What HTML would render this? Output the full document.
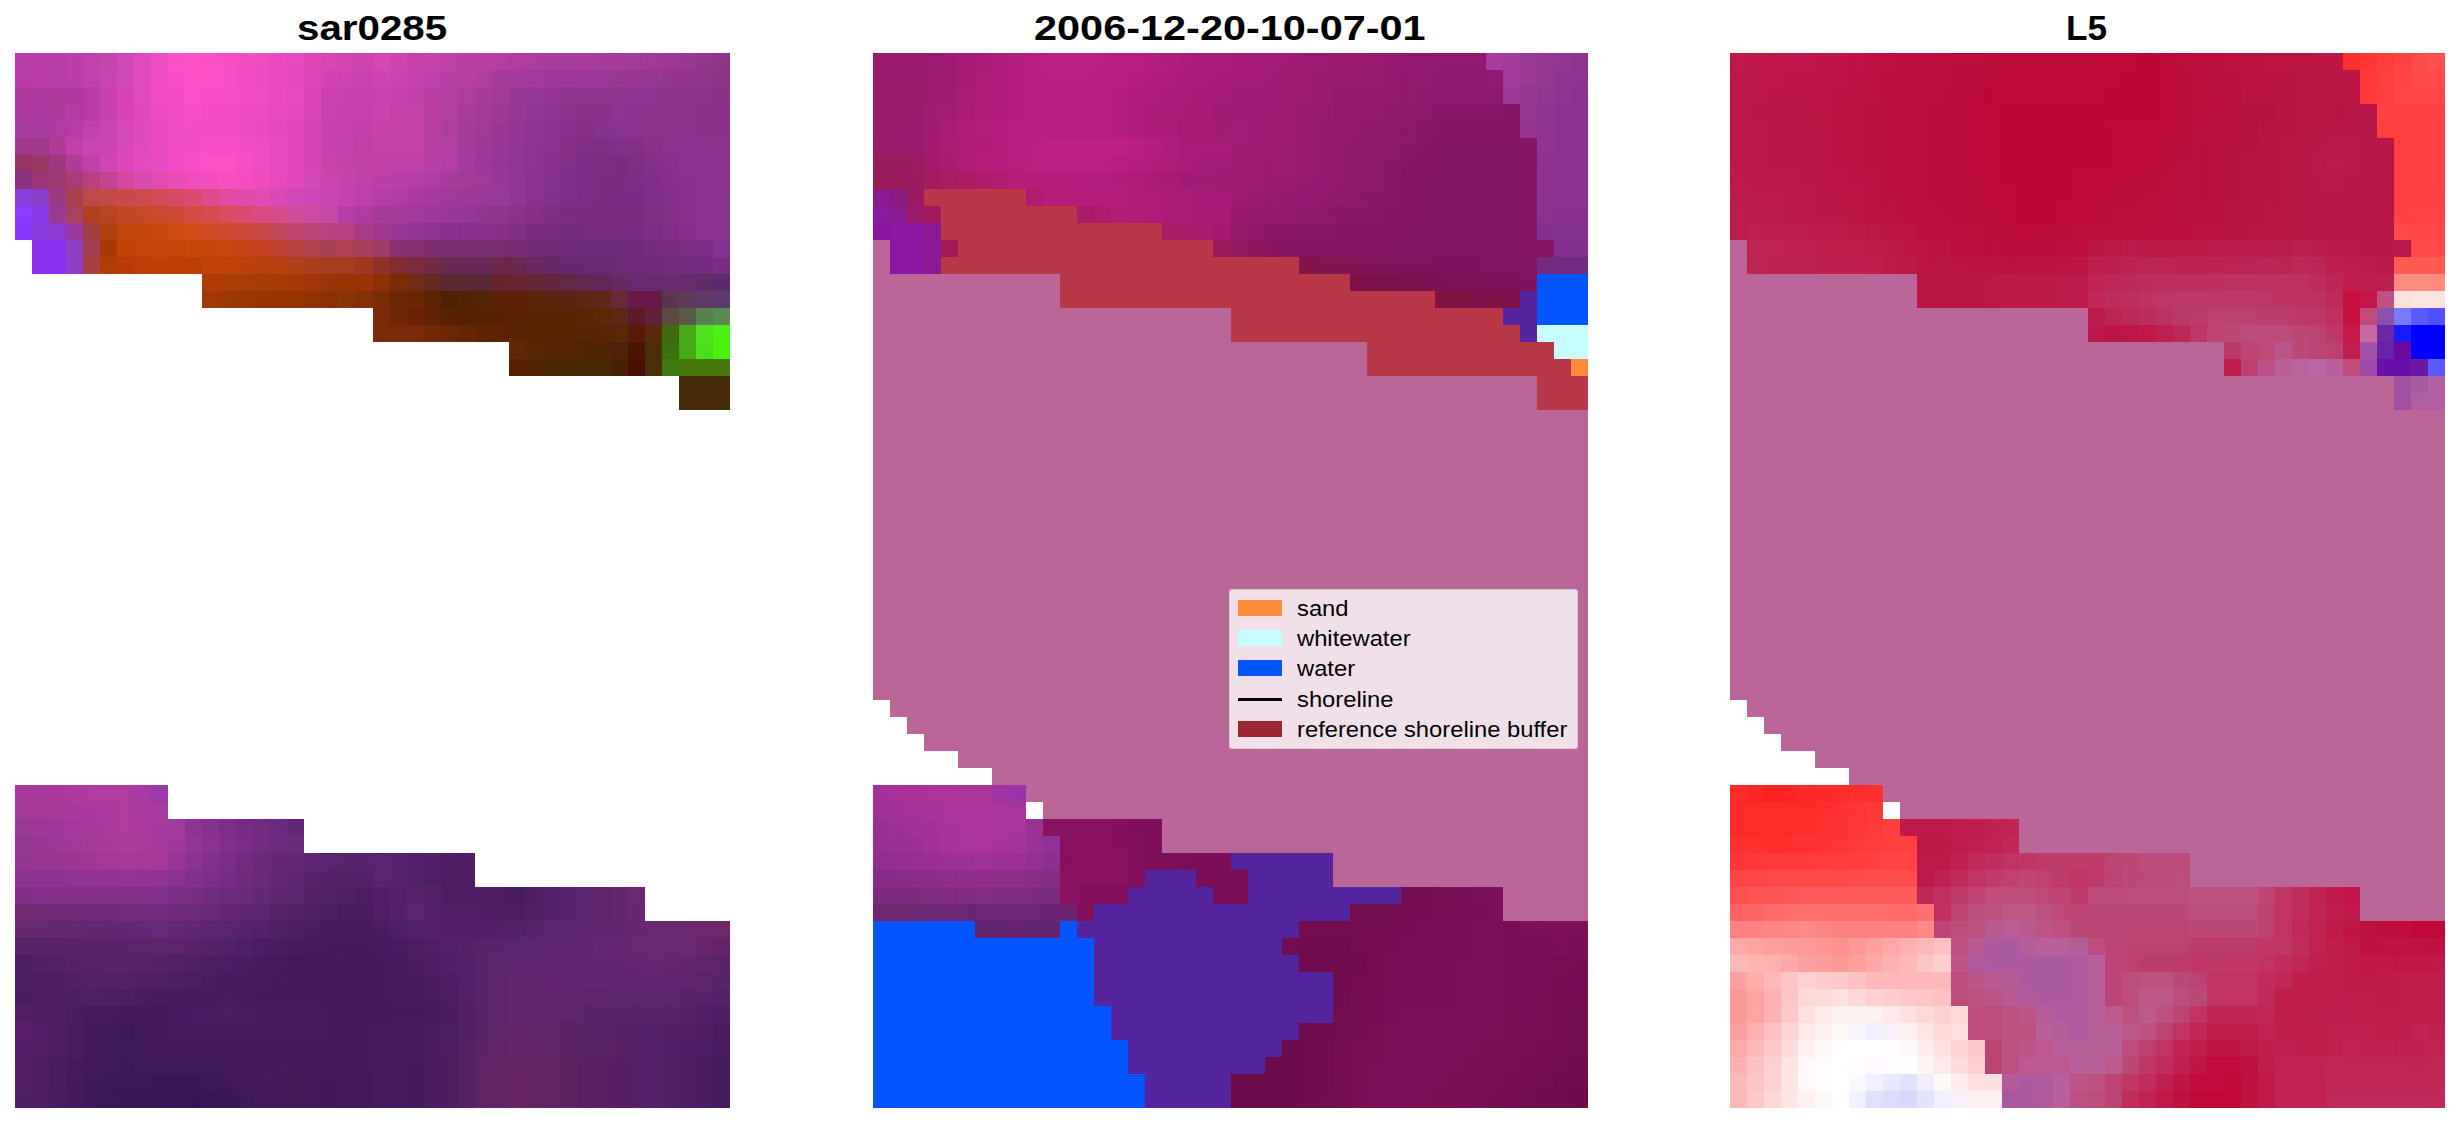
<!DOCTYPE html>
<html><head><meta charset="utf-8">
<style>
html,body{margin:0;padding:0;background:#fff;}
body{width:2460px;height:1123px;position:relative;overflow:hidden;font-family:"Liberation Sans",sans-serif;}
.pn{position:absolute;top:53px;width:715px;height:1055px;display:block;}
.t{position:absolute;font-weight:bold;font-size:35.3px;line-height:35.3px;white-space:nowrap;color:#000;transform-origin:0 0;}
.lg{position:absolute;left:1229px;top:589px;width:347px;height:158px;background:rgba(255,255,255,0.8);border:1px solid rgba(204,204,204,0.8);border-radius:3px;}
.pt{position:absolute;left:1238px;width:44px;height:16px;}
.tx{position:absolute;left:1296.5px;font-size:22px;line-height:22px;white-space:nowrap;color:#000;transform-origin:0 0;transform:scaleX(1.08);}
</style></head><body>
<svg class="pn" style="left:15px" viewBox="0 0 42 62" preserveAspectRatio="none" shape-rendering="crispEdges"><path fill="#b83aa8" d="M0 0h1v1H0zM0 1h1v1H0z"/><path fill="#b83ba8" d="M1 0h1v1H1zM1 1h1v1H1z"/><path fill="#b83ca8" d="M2 0h1v1H2zM2 1h1v1H2zM21 8h1v1H21zM19 9h1v1H19z"/><path fill="#bc3eaa" d="M3 0h1v1H3zM3 1h1v1H3z"/><path fill="#c040ac" d="M4 0h1v1H4zM4 1h1v1H4zM4 4h1v1H4z"/><path fill="#c444b0" d="M5 0h1v1H5z"/><path fill="#d048b8" d="M6 0h1v1H6zM6 1h1v1H6zM16 8h1v1H16z"/><path fill="#e04cc0" d="M7 0h1v1H7z"/><path fill="#f04cc4" d="M8 0h1v1H8zM14 0h1v1H14zM8 1h1v1H8zM8 2h1v1H8zM14 2h1v1H14zM14 5h1v1H14zM14 6h1v1H14z"/><path fill="#fc50c8" d="M9 0h1v1H9zM11 0h1v1H11z"/><path fill="#ff50c8" d="M10 0h1v1H10zM10 1h1v1H10zM12 6h1v1H12z"/><path fill="#f84ec8" d="M12 0h1v1H12zM12 5h1v1H12zM10 6h1v1H10z"/><path fill="#f44dc6" d="M13 0h1v1H13zM13 5h1v1H13z"/><path fill="#ec4ac2" d="M15 0h1v1H15zM15 2h1v1H15z"/><path fill="#e848c0" d="M16 0h1v1H16zM16 2h1v1H16z"/><path fill="#e046ba" d="M17 0h1v1H17z"/><path fill="#d844b4" d="M18 0h1v1H18z"/><path fill="#d443b2" d="M19 0h1v1H19z"/><path fill="#d042b0" d="M20 0h1v1H20z"/><path fill="#d846b4" d="M21 0h1v1H21z"/><path fill="#d043b0" d="M22 0h1v1H22z"/><path fill="#c840ac" d="M23 0h1v1H23zM18 4h1v1H18zM18 5h1v1H18z"/><path fill="#c440aa" d="M24 0h1v1H24zM23 1h1v1H23z"/><path fill="#c040a8" d="M25 0h1v1H25zM23 2h1v1H23zM3 5h1v1H3zM4 6h1v1H4zM23 6h1v1H23z"/><path fill="#bc3fa6" d="M26 0h1v1H26z"/><path fill="#b83ea4" d="M27 0h1v1H27z"/><path fill="#b43ea3" d="M28 0h1v1H28z"/><path fill="#b03ea2" d="M29 0h1v1H29z"/><path fill="#ac3da1" d="M30 0h1v1H30z"/><path fill="#a83ca0" d="M31 0h3v1H31zM0 4h2v1H0zM8 44h1v1H8z"/><path fill="#a63c9e" d="M34 0h1v1H34z"/><path fill="#a43c9c" d="M35 0h1v1H35zM22 9h1v1H22z"/><path fill="#a23b9a" d="M36 0h1v1H36z"/><path fill="#a03a98" d="M37 0h1v1H37zM27 4h1v1H27zM27 7h1v1H27zM25 8h1v1H25z"/><path fill="#9d3995" d="M38 0h1v1H38z"/><path fill="#9a3892" d="M39 0h1v1H39z"/><path fill="#95368d" d="M40 0h1v1H40z"/><path fill="#903488" d="M41 0h1v1H41z"/><path fill="#c844b2" d="M5 1h1v1H5z"/><path fill="#e04bbf" d="M7 1h1v1H7z"/><path fill="#f84ec6" d="M9 1h1v1H9zM12 1h1v1H12zM12 2h1v1H12zM10 3h1v1H10zM13 6h1v1H13z"/><path fill="#fc4fc7" d="M11 1h1v1H11z"/><path fill="#f34dc5" d="M13 1h1v1H13z"/><path fill="#ee4cc4" d="M14 1h1v1H14z"/><path fill="#ea4ac1" d="M15 1h1v1H15z"/><path fill="#e648be" d="M16 1h1v1H16z"/><path fill="#dc45b7" d="M17 1h1v1H17z"/><path fill="#d242b0" d="M18 1h1v1H18z"/><path fill="#cf41ae" d="M19 1h1v1H19z"/><path fill="#cc40ac" d="M20 1h1v1H20z"/><path fill="#d243b1" d="M21 1h1v1H21z"/><path fill="#cc43ae" d="M22 1h1v1H22z"/><path fill="#be3fa7" d="M24 1h1v1H24z"/><path fill="#ba3fa5" d="M25 1h1v1H25zM24 2h1v1H24z"/><path fill="#b63ea3" d="M26 1h1v1H26z"/><path fill="#b03da0" d="M27 1h1v1H27z"/><path fill="#a93b9d" d="M28 1h1v1H28z"/><path fill="#a53b9c" d="M29 1h1v1H29zM24 8h1v1H24z"/><path fill="#a13a9b" d="M30 1h1v1H30z"/><path fill="#9e3999" d="M31 1h2v1H31z"/><path fill="#9c3898" d="M33 1h2v1H33zM27 6h1v1H27z"/><path fill="#9a3896" d="M35 1h1v1H35zM29 2h1v1H29zM28 4h1v1H28z"/><path fill="#983794" d="M36 1h1v1H36z"/><path fill="#973794" d="M37 1h1v1H37zM30 2h1v1H30z"/><path fill="#943691" d="M38 1h1v1H38z"/><path fill="#93358f" d="M39 1h1v1H39z"/><path fill="#92358d" d="M40 1h1v1H40z"/><path fill="#8d3388" d="M41 1h1v1H41z"/><path fill="#b03aa0" d="M0 2h2v1H0z"/><path fill="#b03a9e" d="M2 2h2v1H2zM2 3h1v1H2z"/><path fill="#b83ca4" d="M4 2h1v1H4zM4 3h1v1H4z"/><path fill="#c840b0" d="M5 2h1v1H5zM19 8h1v1H19z"/><path fill="#d444b8" d="M6 2h1v1H6zM6 3h1v1H6z"/><path fill="#e04abe" d="M7 2h1v1H7z"/><path fill="#f44ec6" d="M9 2h1v1H9zM10 4h1v1H10zM10 5h1v1H10z"/><path fill="#f850c8" d="M10 2h1v1H10z"/><path fill="#f84fc7" d="M11 2h1v1H11z"/><path fill="#f44dc5" d="M13 2h1v1H13zM11 4h1v1H11z"/><path fill="#da44b7" d="M17 2h1v1H17z"/><path fill="#cc40ae" d="M18 2h1v1H18zM21 2h1v1H21z"/><path fill="#ca3fac" d="M19 2h1v1H19z"/><path fill="#c83eaa" d="M20 2h1v1H20z"/><path fill="#c640ab" d="M22 2h1v1H22z"/><path fill="#b43ea2" d="M25 2h1v1H25z"/><path fill="#ae3d9f" d="M26 2h1v1H26z"/><path fill="#a83c9c" d="M27 2h1v1H27zM26 4h1v1H26zM25 7h1v1H25zM21 9h1v1H21z"/><path fill="#a13a99" d="M28 2h1v1H28z"/><path fill="#943692" d="M31 2h1v1H31z"/><path fill="#923591" d="M32 2h1v1H32z"/><path fill="#903490" d="M33 2h3v1H33zM8 48h1v1H8z"/><path fill="#8f3490" d="M36 2h1v1H36z"/><path fill="#8e3490" d="M37 2h1v1H37zM30 5h1v1H30z"/><path fill="#8d338e" d="M38 2h1v1H38zM36 3h1v1H36z"/><path fill="#8c328c" d="M39 2h1v1H39z"/><path fill="#8b328a" d="M40 2h1v1H40z"/><path fill="#8a3288" d="M41 2h1v1H41z"/><path fill="#ac3aa0" d="M0 3h1v1H0z"/><path fill="#ac3ba0" d="M1 3h1v1H1z"/><path fill="#b43ba2" d="M3 3h1v1H3z"/><path fill="#c640ae" d="M5 3h1v1H5z"/><path fill="#e048bd" d="M7 3h1v1H7z"/><path fill="#ec4cc2" d="M8 3h1v1H8z"/><path fill="#f24dc4" d="M9 3h1v1H9z"/><path fill="#f64dc5" d="M11 3h1v1H11z"/><path fill="#f44cc4" d="M12 3h1v1H12zM12 4h1v1H12z"/><path fill="#f04cc2" d="M13 3h1v1H13z"/><path fill="#ec4cc0" d="M14 3h1v1H14z"/><path fill="#e84abe" d="M15 3h1v1H15zM15 7h1v1H15z"/><path fill="#e448bc" d="M16 3h1v1H16z"/><path fill="#d744b4" d="M17 3h1v1H17z"/><path fill="#ca40ad" d="M18 3h1v1H18z"/><path fill="#c83fab" d="M19 3h1v1H19z"/><path fill="#c53ea9" d="M20 3h1v1H20z"/><path fill="#ca40ac" d="M21 3h1v1H21z"/><path fill="#c440a9" d="M22 3h1v1H22z"/><path fill="#c240a8" d="M23 3h1v1H23zM23 5h1v1H23z"/><path fill="#bc3fa5" d="M24 3h1v1H24z"/><path fill="#b23ea1" d="M25 3h1v1H25z"/><path fill="#aa3c9d" d="M26 3h1v1H26z"/><path fill="#a43b9a" d="M27 3h1v1H27zM26 7h1v1H26z"/><path fill="#9d3997" d="M28 3h1v1H28z"/><path fill="#973795" d="M29 3h1v1H29zM28 6h1v1H28z"/><path fill="#923593" d="M30 3h1v1H30z"/><path fill="#8f3491" d="M31 3h1v1H31z"/><path fill="#8c328d" d="M32 3h1v1H32zM29 9h1v1H29z"/><path fill="#8a318c" d="M33 3h2v1H33z"/><path fill="#8d3390" d="M35 3h1v1H35z"/><path fill="#8c338e" d="M37 3h1v1H37z"/><path fill="#8b328c" d="M38 3h2v1H38z"/><path fill="#8a328a" d="M40 3h1v1H40zM41 4h1v1H41z"/><path fill="#8a3289" d="M41 3h1v1H41z"/><path fill="#b03ca2" d="M2 4h1v1H2zM20 9h1v1H20z"/><path fill="#b83ca6" d="M3 4h1v1H3z"/><path fill="#c844b0" d="M5 4h1v1H5zM4 5h1v1H4zM18 7h1v1H18zM18 8h1v1H18z"/><path fill="#d448b8" d="M6 4h1v1H6z"/><path fill="#de4abc" d="M7 4h1v1H7z"/><path fill="#e84cc0" d="M8 4h1v1H8zM8 5h1v1H8z"/><path fill="#ee4dc3" d="M9 4h1v1H9zM9 5h1v1H9z"/><path fill="#ee4cc1" d="M13 4h1v1H13z"/><path fill="#e84cbe" d="M14 4h1v1H14z"/><path fill="#e44abc" d="M15 4h1v1H15z"/><path fill="#e048ba" d="M16 4h1v1H16z"/><path fill="#d444b3" d="M17 4h1v1H17z"/><path fill="#c53faa" d="M19 4h1v1H19z"/><path fill="#c23ea8" d="M20 4h1v1H20z"/><path fill="#c840aa" d="M21 4h1v1H21z"/><path fill="#c640a9" d="M22 4h1v1H22z"/><path fill="#c440a8" d="M23 4h1v1H23z"/><path fill="#ba3fa4" d="M24 4h1v1H24z"/><path fill="#b03ea0" d="M25 4h1v1H25z"/><path fill="#943694" d="M29 4h1v1H29z"/><path fill="#8f3492" d="M30 4h1v1H30z"/><path fill="#8a3290" d="M31 4h1v1H31zM35 4h1v1H35zM39 6h1v1H39zM40 7h1v1H40zM30 8h1v1H30zM40 8h2v1H40zM40 9h2v1H40zM40 10h2v1H40z"/><path fill="#87308c" d="M32 4h1v1H32zM34 4h1v1H34zM39 9h1v1H39z"/><path fill="#842e88" d="M33 4h1v1H33zM38 9h1v1H38zM2 49h1v1H2z"/><path fill="#8a328e" d="M36 4h1v1H36zM38 5h2v1H38z"/><path fill="#8a328c" d="M37 4h3v1H37z"/><path fill="#8a328b" d="M40 4h1v1H40z"/><path fill="#a03a8a" d="M0 5h1v1H0z"/><path fill="#a03a8c" d="M1 5h1v1H1z"/><path fill="#b03c96" d="M2 5h1v1H2z"/><path fill="#cc44b2" d="M5 5h1v1H5z"/><path fill="#d848b8" d="M6 5h1v1H6z"/><path fill="#e04abc" d="M7 5h1v1H7z"/><path fill="#f64ec7" d="M11 5h1v1H11z"/><path fill="#e84ac0" d="M15 5h1v1H15zM15 6h1v1H15z"/><path fill="#e048bc" d="M16 5h1v1H16zM16 6h1v1H16zM16 7h1v1H16z"/><path fill="#d444b4" d="M17 5h1v1H17z"/><path fill="#c43fa9" d="M19 5h1v1H19z"/><path fill="#c03ea6" d="M20 5h1v1H20z"/><path fill="#c540a8" d="M21 5h1v1H21z"/><path fill="#c340a7" d="M22 5h1v1H22z"/><path fill="#b83fa4" d="M24 5h1v1H24z"/><path fill="#b23ea2" d="M25 5h1v1H25z"/><path fill="#a63b9c" d="M26 5h1v1H26z"/><path fill="#9e3998" d="M27 5h1v1H27z"/><path fill="#983796" d="M28 5h1v1H28z"/><path fill="#933693" d="M29 5h1v1H29z"/><path fill="#89328e" d="M31 5h1v1H31z"/><path fill="#86308a" d="M32 5h1v1H32zM30 9h1v1H30z"/><path fill="#802d86" d="M33 5h1v1H33z"/><path fill="#7f2d85" d="M34 5h1v1H34zM37 9h1v1H37z"/><path fill="#822f89" d="M35 5h1v1H35z"/><path fill="#822f87" d="M36 5h1v1H36z"/><path fill="#87318b" d="M37 5h1v1H37z"/><path fill="#8b328e" d="M40 5h1v1H40z"/><path fill="#8b328d" d="M41 5h1v1H41z"/><path fill="#9a3268" d="M0 6h1v1H0z"/><path fill="#9a3868" d="M1 6h1v1H1z"/><path fill="#a03a80" d="M2 6h1v1H2z"/><path fill="#b03c98" d="M3 6h1v1H3z"/><path fill="#d044b4" d="M5 6h1v1H5z"/><path fill="#dc48bc" d="M6 6h1v1H6z"/><path fill="#e24ac0" d="M7 6h1v1H7z"/><path fill="#e84cc4" d="M8 6h1v1H8z"/><path fill="#f04dc6" d="M9 6h1v1H9z"/><path fill="#fc4fc8" d="M11 6h1v1H11z"/><path fill="#d445b3" d="M17 6h1v1H17z"/><path fill="#c842aa" d="M18 6h1v1H18z"/><path fill="#c441a8" d="M19 6h1v1H19z"/><path fill="#c040a6" d="M20 6h1v1H20z"/><path fill="#c240a6" d="M21 6h1v1H21z"/><path fill="#c140a7" d="M22 6h1v1H22z"/><path fill="#ba3fa6" d="M24 6h1v1H24z"/><path fill="#b43ea4" d="M25 6h1v1H25z"/><path fill="#a83b9e" d="M26 6h1v1H26z"/><path fill="#923692" d="M29 6h1v1H29zM27 9h1v1H27z"/><path fill="#8d348f" d="M30 6h1v1H30z"/><path fill="#88328c" d="M31 6h1v1H31z"/><path fill="#822f88" d="M32 6h1v1H32z"/><path fill="#7c2c84" d="M33 6h1v1H33zM33 7h1v1H33z"/><path fill="#7b2c83" d="M34 6h1v1H34zM39 11h1v1H39z"/><path fill="#7a2c82" d="M35 6h1v1H35zM34 7h2v1H34zM36 9h1v1H36z"/><path fill="#7f2e86" d="M36 6h1v1H36zM31 9h1v1H31z"/><path fill="#84308a" d="M37 6h1v1H37zM10 48h1v1H10z"/><path fill="#87318d" d="M38 6h1v1H38z"/><path fill="#8b3290" d="M40 6h1v1H40zM41 7h1v1H41z"/><path fill="#8c3290" d="M41 6h1v1H41zM10 47h1v1H10zM0 48h1v1H0z"/><path fill="#8e3080" d="M0 7h1v1H0z"/><path fill="#9a3878" d="M1 7h1v1H1z"/><path fill="#a03a70" d="M2 7h1v1H2z"/><path fill="#a83c78" d="M3 7h1v1H3z"/><path fill="#b84080" d="M4 7h1v1H4zM19 10h1v1H19z"/><path fill="#c04490" d="M5 7h1v1H5z"/><path fill="#d048a0" d="M6 7h1v1H6z"/><path fill="#d84cb0" d="M7 7h1v1H7z"/><path fill="#e04cb0" d="M8 7h1v1H8z"/><path fill="#e84db6" d="M9 7h1v1H9z"/><path fill="#f04ebc" d="M10 7h1v1H10z"/><path fill="#f44fbe" d="M11 7h1v1H11z"/><path fill="#f850c0" d="M12 7h1v1H12z"/><path fill="#f44ec0" d="M13 7h1v1H13z"/><path fill="#f04cc0" d="M14 7h1v1H14z"/><path fill="#d446b6" d="M17 7h1v1H17z"/><path fill="#c442ad" d="M19 7h1v1H19z"/><path fill="#c040aa" d="M20 7h1v1H20z"/><path fill="#bd3ea7" d="M21 7h1v1H21z"/><path fill="#b83ea8" d="M22 7h1v1H22z"/><path fill="#b33da4" d="M23 7h1v1H23z"/><path fill="#ad3da0" d="M24 7h1v1H24z"/><path fill="#993996" d="M28 7h1v1H28z"/><path fill="#923693" d="M29 7h1v1H29z"/><path fill="#8c3390" d="M30 7h1v1H30z"/><path fill="#86318c" d="M31 7h1v1H31z"/><path fill="#802e88" d="M32 7h1v1H32z"/><path fill="#7c2d85" d="M36 7h1v1H36z"/><path fill="#822e88" d="M37 7h1v1H37zM38 10h1v1H38zM0 49h1v1H0z"/><path fill="#86308c" d="M38 7h1v1H38zM39 10h1v1H39z"/><path fill="#88318e" d="M39 7h1v1H39z"/><path fill="#8a40e0" d="M0 8h1v1H0z"/><path fill="#8a40c8" d="M1 8h1v1H1z"/><path fill="#9a3a80" d="M2 8h1v1H2z"/><path fill="#a84050" d="M3 8h1v1H3z"/><path fill="#c04848" d="M4 8h1v1H4z"/><path fill="#c44949" d="M5 8h1v1H5z"/><path fill="#c84a4a" d="M6 8h1v1H6z"/><path fill="#cc4b51" d="M7 8h1v1H7z"/><path fill="#d04c58" d="M8 8h1v1H8z"/><path fill="#d44c64" d="M9 8h1v1H9z"/><path fill="#d84c70" d="M10 8h1v1H10zM13 9h1v1H13z"/><path fill="#dc4c88" d="M11 8h1v1H11z"/><path fill="#e04ca0" d="M12 8h1v1H12z"/><path fill="#e04caa" d="M13 8h1v1H13z"/><path fill="#e04cb4" d="M14 8h1v1H14z"/><path fill="#d84ab6" d="M15 8h1v1H15z"/><path fill="#cc46b4" d="M17 8h1v1H17z"/><path fill="#c03eac" d="M20 8h1v1H20z"/><path fill="#b03ca4" d="M22 8h1v1H22z"/><path fill="#ab3ba0" d="M23 8h1v1H23z"/><path fill="#9d3a98" d="M26 8h1v1H26z"/><path fill="#9a3a98" d="M27 8h2v1H27z"/><path fill="#923694" d="M29 8h1v1H29z"/><path fill="#84308c" d="M31 8h1v1H31z"/><path fill="#7e2e88" d="M32 8h1v1H32zM12 45h1v1H12z"/><path fill="#7b2d85" d="M33 8h1v1H33z"/><path fill="#782c82" d="M34 8h1v1H34zM32 9h1v1H32z"/><path fill="#792c83" d="M35 8h1v1H35z"/><path fill="#7a2c84" d="M36 8h1v1H36zM36 10h1v1H36zM41 12h1v1H41z"/><path fill="#7f2d87" d="M37 8h1v1H37z"/><path fill="#842e8a" d="M38 8h1v1H38z"/><path fill="#87308d" d="M39 8h1v1H39z"/><path fill="#8a3cff" d="M0 9h1v1H0z"/><path fill="#8a3ce8" d="M1 9h1v1H1z"/><path fill="#9a3a90" d="M2 9h1v1H2z"/><path fill="#a84060" d="M3 9h1v1H3z"/><path fill="#b04020" d="M4 9h1v1H4z"/><path fill="#b84424" d="M5 9h1v1H5z"/><path fill="#c04828" d="M6 9h1v1H6z"/><path fill="#c4482c" d="M7 9h1v1H7z"/><path fill="#c84830" d="M8 9h1v1H8z"/><path fill="#cc4a38" d="M9 9h1v1H9z"/><path fill="#d04c40" d="M10 9h1v1H10z"/><path fill="#d44c50" d="M11 9h1v1H11z"/><path fill="#d84c60" d="M12 9h1v1H12z"/><path fill="#d84c80" d="M14 9h1v1H14z"/><path fill="#d44c8c" d="M15 9h1v1H15z"/><path fill="#d04c98" d="M16 9h1v1H16z"/><path fill="#cc4aa0" d="M17 9h1v1H17z"/><path fill="#c848a8" d="M18 9h1v1H18z"/><path fill="#a03b9b" d="M23 9h1v1H23z"/><path fill="#9c3999" d="M24 9h1v1H24z"/><path fill="#983898" d="M25 9h1v1H25z"/><path fill="#953795" d="M26 9h1v1H26z"/><path fill="#923490" d="M28 9h1v1H28z"/><path fill="#782c81" d="M33 9h1v1H33z"/><path fill="#782c80" d="M34 9h1v1H34zM34 10h1v1H34zM38 11h1v1H38z"/><path fill="#792c81" d="M35 9h1v1H35z"/><path fill="#8a38ff" d="M0 10h1v1H0z"/><path fill="#8a3ce0" d="M1 10h1v1H1z"/><path fill="#8a3ad0" d="M2 10h1v1H2z"/><path fill="#9a3aa0" d="M3 10h1v1H3z"/><path fill="#a04040" d="M4 10h1v1H4z"/><path fill="#b04010" d="M5 10h1v1H5z"/><path fill="#c04810" d="M6 10h1v1H6z"/><path fill="#c44810" d="M7 10h1v1H7z"/><path fill="#c84810" d="M8 10h1v1H8zM12 11h1v1H12z"/><path fill="#cc4a14" d="M9 10h1v1H9z"/><path fill="#d04c18" d="M10 10h1v1H10z"/><path fill="#d04c24" d="M11 10h1v1H11z"/><path fill="#d04c30" d="M12 10h1v1H12z"/><path fill="#cc4a3c" d="M13 10h1v1H13z"/><path fill="#c84848" d="M14 10h1v1H14z"/><path fill="#c4485c" d="M15 10h1v1H15z"/><path fill="#c04870" d="M16 10h1v1H16z"/><path fill="#bc4476" d="M17 10h1v1H17z"/><path fill="#b8407c" d="M18 10h1v1H18z"/><path fill="#a83c88" d="M20 10h1v1H20z"/><path fill="#a03890" d="M21 10h1v1H21z"/><path fill="#983894" d="M22 10h1v1H22z"/><path fill="#933593" d="M23 10h1v1H23z"/><path fill="#8f3391" d="M24 10h1v1H24z"/><path fill="#8a3090" d="M25 10h1v1H25z"/><path fill="#89308f" d="M26 10h1v1H26z"/><path fill="#88308e" d="M27 10h1v1H27z"/><path fill="#883088" d="M28 10h1v1H28z"/><path fill="#812e84" d="M29 10h1v1H29z"/><path fill="#7a2c80" d="M30 10h1v1H30z"/><path fill="#772b7e" d="M31 10h1v1H31z"/><path fill="#742a7c" d="M32 10h1v1H32zM38 12h1v1H38z"/><path fill="#762b7e" d="M33 10h1v1H33z"/><path fill="#792c82" d="M35 10h1v1H35z"/><path fill="#7e2d86" d="M37 10h1v1H37z"/><path fill="#8a30f0" d="M1 11h2v1H1zM1 12h2v1H1z"/><path fill="#9040c0" d="M3 11h1v1H3z"/><path fill="#a04050" d="M4 11h1v1H4z"/><path fill="#a83808" d="M5 11h1v1H5zM16 13h1v1H16z"/><path fill="#c04408" d="M6 11h1v1H6zM12 12h1v1H12z"/><path fill="#c2440a" d="M7 11h1v1H7z"/><path fill="#c4440c" d="M8 11h1v1H8z"/><path fill="#c44408" d="M9 11h1v1H9z"/><path fill="#c84808" d="M10 11h1v1H10z"/><path fill="#c8480c" d="M11 11h1v1H11z"/><path fill="#c64418" d="M13 11h1v1H13z"/><path fill="#c44020" d="M14 11h1v1H14z"/><path fill="#be4030" d="M15 11h1v1H15z"/><path fill="#b84040" d="M16 11h1v1H16z"/><path fill="#b0404c" d="M17 11h1v1H17z"/><path fill="#a84058" d="M18 11h1v1H18z"/><path fill="#b04050" d="M19 11h1v1H19z"/><path fill="#a8405c" d="M20 11h1v1H20z"/><path fill="#a03c68" d="M21 11h1v1H21z"/><path fill="#8a3070" d="M22 11h1v1H22z"/><path fill="#852f70" d="M23 11h1v1H23z"/><path fill="#7f2d70" d="M24 11h1v1H24z"/><path fill="#7a2c70" d="M25 11h1v1H25zM28 11h1v1H28z"/><path fill="#782e6f" d="M26 11h1v1H26z"/><path fill="#76306e" d="M27 11h1v1H27z"/><path fill="#762b72" d="M29 11h1v1H29z"/><path fill="#722a74" d="M30 11h1v1H30z"/><path fill="#702a76" d="M31 11h1v1H31z"/><path fill="#6e2a78" d="M32 11h1v1H32zM36 12h1v1H36zM4 50h1v1H4z"/><path fill="#6d2a79" d="M33 11h1v1H33z"/><path fill="#6c2a7a" d="M34 11h1v1H34z"/><path fill="#6e2a7b" d="M35 11h1v1H35z"/><path fill="#702a7c" d="M36 11h1v1H36z"/><path fill="#742b7e" d="M37 11h1v1H37z"/><path fill="#7e2c86" d="M40 11h1v1H40z"/><path fill="#883090" d="M41 11h1v1H41z"/><path fill="#9040c8" d="M3 12h1v1H3z"/><path fill="#a84040" d="M4 12h1v1H4z"/><path fill="#b03c08" d="M5 12h1v1H5z"/><path fill="#b83c08" d="M6 12h1v1H6z"/><path fill="#bc3e08" d="M7 12h1v1H7z"/><path fill="#c04008" d="M8 12h1v1H8z"/><path fill="#bd4007" d="M9 12h1v1H9z"/><path fill="#ba4006" d="M10 12h1v1H10z"/><path fill="#bd4307" d="M11 12h1v1H11z"/><path fill="#bc420c" d="M13 12h1v1H13z"/><path fill="#b84010" d="M14 12h1v1H14z"/><path fill="#b44014" d="M15 12h1v1H15z"/><path fill="#b04018" d="M16 12h1v1H16z"/><path fill="#ac3e1c" d="M17 12h1v1H17z"/><path fill="#a83c20" d="M18 12h2v1H18z"/><path fill="#a03820" d="M20 12h1v1H20z"/><path fill="#903028" d="M21 12h1v1H21z"/><path fill="#802c30" d="M22 12h1v1H22z"/><path fill="#792b3b" d="M23 12h1v1H23z"/><path fill="#712b45" d="M24 12h1v1H24z"/><path fill="#6a2a50" d="M25 12h1v1H25z"/><path fill="#6a2954" d="M26 12h1v1H26z"/><path fill="#6a2858" d="M27 12h1v1H27z"/><path fill="#6c2848" d="M28 12h1v1H28z"/><path fill="#6a2850" d="M29 12h1v1H29z"/><path fill="#6a2860" d="M30 12h1v1H30z"/><path fill="#692868" d="M31 12h1v1H31z"/><path fill="#682870" d="M32 12h1v1H32zM0 51h1v1H0z"/><path fill="#692872" d="M33 12h1v1H33z"/><path fill="#6a2874" d="M34 12h1v1H34z"/><path fill="#6c2976" d="M35 12h1v1H35z"/><path fill="#712a7a" d="M37 12h1v1H37z"/><path fill="#742a7e" d="M39 12h1v1H39z"/><path fill="#742a80" d="M40 12h1v1H40zM14 46h1v1H14z"/><path fill="#b03c04" d="M11 13h1v1H11z"/><path fill="#ad3c05" d="M12 13h1v1H12z"/><path fill="#ab3c07" d="M13 13h1v1H13z"/><path fill="#a83c08" d="M14 13h1v1H14z"/><path fill="#a83a08" d="M15 13h1v1H15z"/><path fill="#a03608" d="M17 13h1v1H17z"/><path fill="#983408" d="M18 13h1v1H18z"/><path fill="#983404" d="M19 13h2v1H19zM14 14h3v1H14z"/><path fill="#8a3004" d="M21 13h1v1H21zM18 14h1v1H18z"/><path fill="#7a2c04" d="M22 13h1v1H22zM21 14h1v1H21z"/><path fill="#6f2b13" d="M23 13h1v1H23z"/><path fill="#652b21" d="M24 13h1v1H24z"/><path fill="#5a2a30" d="M25 13h1v1H25z"/><path fill="#5a2934" d="M26 13h1v1H26z"/><path fill="#5a2838" d="M27 13h1v1H27z"/><path fill="#6a2430" d="M28 13h1v1H28z"/><path fill="#672634" d="M29 13h1v1H29z"/><path fill="#642838" d="M30 13h1v1H30z"/><path fill="#632840" d="M31 13h1v1H31z"/><path fill="#622848" d="M32 13h1v1H32z"/><path fill="#632850" d="M33 13h1v1H33z"/><path fill="#642858" d="M34 13h1v1H34z"/><path fill="#672864" d="M35 13h1v1H35z"/><path fill="#6a2870" d="M36 13h1v1H36zM36 49h1v1H36z"/><path fill="#6a296f" d="M37 13h1v1H37z"/><path fill="#6a2a6e" d="M38 13h1v1H38z"/><path fill="#652b6b" d="M39 13h1v1H39z"/><path fill="#602c68" d="M40 13h1v1H40z"/><path fill="#5a2a6a" d="M41 13h1v1H41z"/><path fill="#a03808" d="M11 14h1v1H11z"/><path fill="#9d3707" d="M12 14h1v1H12z"/><path fill="#9b3505" d="M13 14h1v1H13z"/><path fill="#913204" d="M17 14h1v1H17z"/><path fill="#8a3404" d="M19 14h1v1H19z"/><path fill="#823004" d="M20 14h1v1H20z"/><path fill="#6a2804" d="M22 14h1v1H22zM25 16h1v1H25z"/><path fill="#6b2604" d="M23 14h1v1H23z"/><path fill="#5e2304" d="M24 14h1v1H24z"/><path fill="#502004" d="M25 14h1v1H25z"/><path fill="#522206" d="M26 14h1v1H26z"/><path fill="#542408" d="M27 14h1v1H27z"/><path fill="#5c2008" d="M28 14h1v1H28z"/><path fill="#5c2208" d="M29 14h1v1H29z"/><path fill="#5c2408" d="M30 14h1v1H30z"/><path fill="#5c240c" d="M31 14h1v1H31z"/><path fill="#5c2410" d="M32 14h1v1H32z"/><path fill="#5e2614" d="M33 14h1v1H33z"/><path fill="#602818" d="M34 14h1v1H34z"/><path fill="#6a2838" d="M35 14h1v1H35z"/><path fill="#6a1a48" d="M36 14h2v1H36z"/><path fill="#5a3450" d="M38 14h1v1H38z"/><path fill="#5e3a5a" d="M39 14h1v1H39z"/><path fill="#5e3a64" d="M40 14h1v1H40z"/><path fill="#5a3a6a" d="M41 14h1v1H41z"/><path fill="#7a2c08" d="M21 15h1v1H21zM21 16h3v1H21z"/><path fill="#722806" d="M22 15h1v1H22z"/><path fill="#6a2404" d="M23 15h1v1H23z"/><path fill="#622204" d="M24 15h1v1H24z"/><path fill="#5a2004" d="M25 15h1v1H25zM29 18h1v1H29z"/><path fill="#592004" d="M26 15h1v1H26z"/><path fill="#582004" d="M27 15h2v1H27z"/><path fill="#592204" d="M29 15h1v1H29z"/><path fill="#5a2404" d="M30 15h1v1H30zM29 16h1v1H29z"/><path fill="#592404" d="M31 15h1v1H31z"/><path fill="#582404" d="M32 15h1v1H32zM30 16h3v1H30z"/><path fill="#5b2606" d="M33 15h1v1H33zM30 17h1v1H30z"/><path fill="#5e2808" d="M34 15h1v1H34z"/><path fill="#5e2818" d="M35 15h1v1H35z"/><path fill="#5e1a28" d="M36 15h1v1H36z"/><path fill="#62203a" d="M37 15h1v1H37z"/><path fill="#5a4a40" d="M38 15h1v1H38z"/><path fill="#5a5a48" d="M39 15h1v1H39z"/><path fill="#5a8050" d="M40 15h1v1H40z"/><path fill="#5a8a50" d="M41 15h1v1H41z"/><path fill="#722a06" d="M24 16h1v1H24z"/><path fill="#652604" d="M26 16h1v1H26z"/><path fill="#602404" d="M27 16h1v1H27z"/><path fill="#5c2404" d="M28 16h1v1H28z"/><path fill="#592406" d="M33 16h1v1H33z"/><path fill="#5a2408" d="M34 16h1v1H34z"/><path fill="#5a2808" d="M35 16h1v1H35z"/><path fill="#5a1808" d="M36 16h1v1H36z"/><path fill="#5a2a10" d="M37 16h1v1H37z"/><path fill="#406a10" d="M38 16h1v1H38z"/><path fill="#48a818" d="M39 16h1v1H39zM39 17h1v1H39z"/><path fill="#50e020" d="M40 16h1v1H40z"/><path fill="#4af010" d="M41 16h1v1H41zM41 17h1v1H41z"/><path fill="#602808" d="M29 17h1v1H29z"/><path fill="#562404" d="M31 17h1v1H31z"/><path fill="#542404" d="M32 17h1v1H32z"/><path fill="#522404" d="M33 17h1v1H33zM30 18h1v1H30z"/><path fill="#512404" d="M34 17h1v1H34z"/><path fill="#502008" d="M35 17h1v1H35z"/><path fill="#4a1404" d="M36 17h1v1H36z"/><path fill="#4a3008" d="M37 17h1v1H37z"/><path fill="#3e7010" d="M38 17h1v1H38z"/><path fill="#4ae018" d="M40 17h1v1H40z"/><path fill="#4a2804" d="M31 18h1v1H31z"/><path fill="#492804" d="M32 18h1v1H32z"/><path fill="#482804" d="M33 18h1v1H33z"/><path fill="#492604" d="M34 18h1v1H34z"/><path fill="#4a2004" d="M35 18h1v1H35z"/><path fill="#481004" d="M36 18h1v1H36z"/><path fill="#483008" d="M37 18h1v1H37z"/><path fill="#3e7a10" d="M38 18h1v1H38z"/><path fill="#467808" d="M39 18h3v1H39z"/><path fill="#462c08" d="M39 19h3v1H39zM39 20h3v1H39z"/><path fill="#a83a9c" d="M0 43h1v1H0zM2 44h1v1H2zM4 45h1v1H4zM6 47h1v1H6z"/><path fill="#aa3a9d" d="M1 43h1v1H1zM3 44h1v1H3z"/><path fill="#ac3a9e" d="M2 43h1v1H2zM4 44h1v1H4z"/><path fill="#ae3b9f" d="M3 43h1v1H3zM5 44h1v1H5z"/><path fill="#b03ca0" d="M4 43h3v1H4zM6 44h1v1H6zM6 45h1v1H6z"/><path fill="#a83ca4" d="M7 43h1v1H7z"/><path fill="#9a3aa8" d="M8 43h1v1H8z"/><path fill="#a43a9a" d="M0 44h1v1H0zM4 46h1v1H4zM8 47h1v1H8z"/><path fill="#a63a9b" d="M1 44h1v1H1zM7 47h1v1H7z"/><path fill="#ac3ca0" d="M7 44h1v1H7z"/><path fill="#9c3896" d="M0 45h1v1H0zM2 46h1v1H2z"/><path fill="#9e3898" d="M1 45h1v1H1z"/><path fill="#a0389a" d="M2 45h1v1H2z"/><path fill="#a4399b" d="M3 45h1v1H3z"/><path fill="#ac3b9e" d="M5 45h1v1H5z"/><path fill="#ac3c9f" d="M7 45h1v1H7z"/><path fill="#a83c9e" d="M8 45h1v1H8zM8 46h1v1H8z"/><path fill="#a03a9c" d="M9 45h1v1H9z"/><path fill="#8c3496" d="M10 45h1v1H10z"/><path fill="#85318f" d="M11 45h1v1H11z"/><path fill="#772c84" d="M13 45h1v1H13z"/><path fill="#702a80" d="M14 45h1v1H14z"/><path fill="#69297c" d="M15 45h1v1H15z"/><path fill="#622878" d="M16 45h1v1H16z"/><path fill="#983694" d="M0 46h1v1H0zM2 47h1v1H2z"/><path fill="#9a3795" d="M1 46h1v1H1z"/><path fill="#a03998" d="M3 46h1v1H3z"/><path fill="#a83b9c" d="M5 46h1v1H5z"/><path fill="#ac3c9e" d="M6 46h1v1H6z"/><path fill="#aa3c9e" d="M7 46h1v1H7z"/><path fill="#9e3899" d="M9 46h1v1H9z"/><path fill="#943494" d="M10 46h1v1H10zM6 48h1v1H6z"/><path fill="#8b318f" d="M11 46h1v1H11z"/><path fill="#822e8a" d="M12 46h1v1H12z"/><path fill="#7b2c85" d="M13 46h1v1H13z"/><path fill="#6f297c" d="M15 46h1v1H15z"/><path fill="#6a2878" d="M16 46h1v1H16zM14 47h1v1H14zM14 48h1v1H14z"/><path fill="#963692" d="M0 47h1v1H0z"/><path fill="#973693" d="M1 47h1v1H1z"/><path fill="#9c3796" d="M3 47h1v1H3z"/><path fill="#a03898" d="M4 47h1v1H4z"/><path fill="#a4399a" d="M5 47h1v1H5z"/><path fill="#983695" d="M9 47h1v1H9z"/><path fill="#832f8b" d="M11 47h1v1H11z"/><path fill="#7a2c86" d="M12 47h1v1H12z"/><path fill="#722a7f" d="M13 47h1v1H13z"/><path fill="#662876" d="M15 47h1v1H15z"/><path fill="#622874" d="M16 47h1v1H16zM14 49h1v1H14z"/><path fill="#5e2672" d="M17 47h1v1H17z"/><path fill="#5a2470" d="M18 47h1v1H18zM21 48h1v1H21zM23 50h1v1H23zM12 51h1v1H12z"/><path fill="#59246e" d="M19 47h1v1H19z"/><path fill="#58246c" d="M20 47h1v1H20zM27 52h1v1H27zM27 53h1v1H27zM27 54h1v1H27z"/><path fill="#5a2472" d="M21 47h1v1H21z"/><path fill="#57236f" d="M22 47h1v1H22z"/><path fill="#54226c" d="M23 47h1v1H23z"/><path fill="#512069" d="M24 47h1v1H24z"/><path fill="#4e1e66" d="M25 47h1v1H25zM25 54h1v1H25z"/><path fill="#4c1e64" d="M26 47h1v1H26zM25 48h1v1H25zM16 51h1v1H16zM23 52h1v1H23z"/><path fill="#8d3290" d="M1 48h1v1H1z"/><path fill="#8e3290" d="M2 48h1v1H2z"/><path fill="#903391" d="M3 48h1v1H3z"/><path fill="#923492" d="M4 48h1v1H4zM7 48h1v1H7z"/><path fill="#933493" d="M5 48h1v1H5z"/><path fill="#8a328d" d="M9 48h1v1H9z"/><path fill="#7d2e86" d="M11 48h1v1H11z"/><path fill="#762c82" d="M12 48h1v1H12z"/><path fill="#702a7d" d="M13 48h1v1H13z"/><path fill="#642774" d="M15 48h1v1H15z"/><path fill="#5e2670" d="M16 48h1v1H16zM33 51h1v1H33zM31 52h1v1H31zM29 53h1v1H29zM37 55h1v1H37z"/><path fill="#59246c" d="M17 48h1v1H17z"/><path fill="#542268" d="M18 48h1v1H18zM2 53h1v1H2z"/><path fill="#542269" d="M19 48h1v1H19z"/><path fill="#54226a" d="M20 48h1v1H20zM31 49h1v1H31zM31 50h1v1H31zM14 51h1v1H14zM25 52h1v1H25zM41 55h1v1H41zM37 57h1v1H37zM37 58h1v1H37zM37 59h1v1H37zM37 60h1v1H37zM37 61h1v1H37z"/><path fill="#56236d" d="M22 48h1v1H22z"/><path fill="#52226a" d="M23 48h1v1H23zM23 51h1v1H23zM29 51h1v1H29zM12 52h1v1H12z"/><path fill="#4f2067" d="M24 48h1v1H24z"/><path fill="#4d1e64" d="M26 48h1v1H26z"/><path fill="#832e88" d="M1 49h1v1H1z"/><path fill="#852e88" d="M3 49h1v1H3z"/><path fill="#862e88" d="M4 49h1v1H4z"/><path fill="#842f89" d="M5 49h1v1H5z"/><path fill="#82308a" d="M6 49h1v1H6z"/><path fill="#81308a" d="M7 49h1v1H7z"/><path fill="#80308a" d="M8 49h1v1H8z"/><path fill="#7c2e87" d="M9 49h1v1H9z"/><path fill="#782c84" d="M10 49h1v1H10z"/><path fill="#722b80" d="M11 49h1v1H11z"/><path fill="#6c2a7c" d="M12 49h1v1H12z"/><path fill="#672978" d="M13 49h1v1H13z"/><path fill="#5e2671" d="M15 49h1v1H15z"/><path fill="#5a246e" d="M16 49h1v1H16zM33 49h1v1H33zM33 50h1v1H33zM31 51h1v1H31zM29 52h1v1H29z"/><path fill="#56236a" d="M17 49h1v1H17z"/><path fill="#522266" d="M18 49h1v1H18z"/><path fill="#502065" d="M19 49h1v1H19z"/><path fill="#4e1e64" d="M20 49h1v1H20zM25 49h3v1H25zM29 50h1v1H29zM2 57h1v1H2zM39 59h1v1H39zM39 60h1v1H39zM39 61h1v1H39z"/><path fill="#561e6a" d="M21 49h1v1H21zM25 51h3v1H25z"/><path fill="#58216b" d="M22 49h1v1H22z"/><path fill="#5a246c" d="M23 49h1v1H23zM10 52h1v1H10zM27 55h1v1H27zM39 55h1v1H39zM37 56h1v1H37z"/><path fill="#542168" d="M24 49h1v1H24z"/><path fill="#4c1d63" d="M28 49h1v1H28z"/><path fill="#4a1c62" d="M29 49h1v1H29zM21 51h1v1H21zM23 53h1v1H23zM41 57h1v1H41zM2 59h1v1H2zM2 60h1v1H2z"/><path fill="#4f1f66" d="M30 49h1v1H30z"/><path fill="#57236c" d="M32 49h1v1H32zM32 50h1v1H32z"/><path fill="#5e256d" d="M34 49h1v1H34z"/><path fill="#62266c" d="M35 49h1v1H35zM29 56h3v1H29z"/><path fill="#70286e" d="M0 50h1v1H0z"/><path fill="#702973" d="M1 50h1v1H1z"/><path fill="#702a78" d="M2 50h1v1H2z"/><path fill="#6f2a78" d="M3 50h1v1H3z"/><path fill="#702a7a" d="M5 50h1v1H5z"/><path fill="#722a7c" d="M6 50h3v1H6z"/><path fill="#6f2a7a" d="M9 50h1v1H9z"/><path fill="#6c2a78" d="M10 50h1v1H10z"/><path fill="#682977" d="M11 50h1v1H11z"/><path fill="#642876" d="M12 50h1v1H12z"/><path fill="#602773" d="M13 50h1v1H13z"/><path fill="#5c2670" d="M14 50h1v1H14z"/><path fill="#57246c" d="M15 50h1v1H15z"/><path fill="#522268" d="M16 50h1v1H16z"/><path fill="#4e2065" d="M17 50h1v1H17z"/><path fill="#4a1e62" d="M18 50h1v1H18zM10 54h1v1H10zM12 56h1v1H12zM25 57h1v1H25z"/><path fill="#491d61" d="M19 50h1v1H19zM7 55h1v1H7z"/><path fill="#481c60" d="M20 50h1v1H20zM12 55h1v1H12zM3 57h1v1H3zM2 61h1v1H2z"/><path fill="#521e68" d="M21 50h1v1H21zM25 50h1v1H25z"/><path fill="#56216c" d="M22 50h1v1H22zM24 50h1v1H24z"/><path fill="#511e67" d="M26 50h1v1H26z"/><path fill="#501e66" d="M27 50h1v1H27zM41 56h1v1H41zM39 58h1v1H39z"/><path fill="#4f1e65" d="M28 50h1v1H28z"/><path fill="#512067" d="M30 50h1v1H30zM38 59h1v1H38zM38 60h1v1H38zM38 61h1v1H38z"/><path fill="#5e256e" d="M34 50h1v1H34zM28 55h1v1H28z"/><path fill="#62266e" d="M35 50h1v1H35zM31 55h1v1H31z"/><path fill="#662870" d="M36 50h1v1H36zM2 51h1v1H2z"/><path fill="#672870" d="M1 51h1v1H1z"/><path fill="#642771" d="M3 51h1v1H3z"/><path fill="#622672" d="M4 51h1v1H4zM35 51h1v1H35zM33 52h1v1H33zM31 53h3v1H31zM33 54h1v1H33zM37 54h1v1H37z"/><path fill="#622673" d="M5 51h1v1H5z"/><path fill="#622674" d="M6 51h1v1H6zM10 51h1v1H10z"/><path fill="#642776" d="M7 51h1v1H7zM9 51h1v1H9z"/><path fill="#662878" d="M8 51h1v1H8z"/><path fill="#5e2572" d="M11 51h1v1H11z"/><path fill="#57236d" d="M13 51h1v1H13z"/><path fill="#502067" d="M15 51h1v1H15zM24 52h1v1H24z"/><path fill="#491d62" d="M17 51h1v1H17zM11 56h1v1H11z"/><path fill="#461c60" d="M18 51h3v1H18zM16 52h1v1H16zM14 53h1v1H14zM12 54h1v1H12zM23 54h1v1H23zM8 55h1v1H8zM14 56h1v1H14zM10 57h3v1H10zM21 57h3v1H21zM21 58h1v1H21zM21 59h1v1H21zM41 59h1v1H41zM21 60h1v1H21zM41 60h1v1H41zM21 61h1v1H21zM41 61h1v1H41z"/><path fill="#4e1f66" d="M22 51h1v1H22z"/><path fill="#54206a" d="M24 51h1v1H24zM28 51h1v1H28z"/><path fill="#56236c" d="M30 51h1v1H30z"/><path fill="#5c256f" d="M32 51h1v1H32zM30 52h1v1H30z"/><path fill="#602671" d="M34 51h1v1H34zM32 52h1v1H32zM30 53h1v1H30z"/><path fill="#662772" d="M36 51h1v1H36z"/><path fill="#6a2872" d="M37 51h1v1H37zM39 52h1v1H39z"/><path fill="#6b286f" d="M38 51h1v1H38z"/><path fill="#6c286c" d="M39 51h1v1H39z"/><path fill="#6c286a" d="M40 51h1v1H40z"/><path fill="#6c2868" d="M41 51h1v1H41z"/><path fill="#5a2468" d="M0 52h1v1H0zM6 53h1v1H6zM27 56h1v1H27z"/><path fill="#5b2468" d="M1 52h1v1H1z"/><path fill="#5c2468" d="M2 52h1v1H2zM41 53h1v1H41zM33 56h1v1H33z"/><path fill="#5b2469" d="M3 52h1v1H3zM34 56h1v1H34z"/><path fill="#5a246a" d="M4 52h3v1H4zM35 56h1v1H35z"/><path fill="#5b246b" d="M7 52h1v1H7z"/><path fill="#5c246c" d="M8 52h1v1H8zM35 55h1v1H35z"/><path fill="#5b246c" d="M9 52h1v1H9z"/><path fill="#56236b" d="M11 52h1v1H11zM26 52h1v1H26z"/><path fill="#4e2067" d="M13 52h1v1H13z"/><path fill="#4a1e64" d="M14 52h1v1H14zM12 53h1v1H12z"/><path fill="#481d62" d="M15 52h1v1H15zM13 53h1v1H13z"/><path fill="#451b5f" d="M17 52h1v1H17zM22 54h1v1H22zM22 59h1v1H22zM22 60h1v1H22zM22 61h1v1H22z"/><path fill="#441a5e" d="M18 52h3v1H18zM20 53h1v1H20zM18 54h4v1H18zM14 55h7v1H14zM8 56h1v1H8zM18 56h3v1H18zM23 56h1v1H23zM18 57h3v1H18zM10 58h5v1H10zM18 58h3v1H18zM20 59h1v1H20zM23 59h1v1H23zM3 60h1v1H3zM23 60h1v1H23zM23 61h1v1H23z"/><path fill="#441a60" d="M21 52h1v1H21z"/><path fill="#481c62" d="M22 52h1v1H22zM10 56h1v1H10zM41 58h1v1H41z"/><path fill="#59246d" d="M28 52h1v1H28z"/><path fill="#642773" d="M34 52h1v1H34z"/><path fill="#662874" d="M35 52h1v1H35zM37 53h1v1H37z"/><path fill="#672874" d="M36 52h1v1H36z"/><path fill="#682874" d="M37 52h1v1H37z"/><path fill="#692873" d="M38 52h1v1H38z"/><path fill="#67266d" d="M40 52h1v1H40z"/><path fill="#642468" d="M41 52h1v1H41z"/><path fill="#4e1e62" d="M0 53h1v1H0zM2 56h1v1H2zM2 58h1v1H2z"/><path fill="#512065" d="M1 53h1v1H1z"/><path fill="#562368" d="M3 53h1v1H3z"/><path fill="#582468" d="M4 53h1v1H4z"/><path fill="#592468" d="M5 53h1v1H5z"/><path fill="#582369" d="M7 53h1v1H7z"/><path fill="#56226a" d="M8 53h1v1H8zM36 57h1v1H36z"/><path fill="#522168" d="M9 53h1v1H9z"/><path fill="#4e2066" d="M10 53h1v1H10z"/><path fill="#4c1f65" d="M11 53h1v1H11z"/><path fill="#441b5e" d="M15 53h1v1H15zM9 57h1v1H9z"/><path fill="#421a5c" d="M16 53h3v1H16zM16 54h1v1H16zM21 56h1v1H21zM4 57h1v1H4zM8 57h1v1H8zM4 58h1v1H4zM8 58h1v1H8zM12 59h1v1H12zM18 59h1v1H18zM20 60h1v1H20zM20 61h1v1H20z"/><path fill="#431a5d" d="M19 53h1v1H19zM17 54h1v1H17zM22 56h1v1H22zM9 58h1v1H9zM19 59h1v1H19zM3 61h1v1H3z"/><path fill="#421a5e" d="M21 53h1v1H21zM21 55h1v1H21z"/><path fill="#461b60" d="M22 53h1v1H22zM9 56h1v1H9z"/><path fill="#4d1e66" d="M24 53h1v1H24z"/><path fill="#50206a" d="M25 53h1v1H25z"/><path fill="#54226b" d="M26 53h1v1H26z"/><path fill="#5b256e" d="M28 53h1v1H28z"/><path fill="#632673" d="M34 53h1v1H34z"/><path fill="#642674" d="M35 53h1v1H35z"/><path fill="#652774" d="M36 53h1v1H36z"/><path fill="#652772" d="M38 53h1v1H38z"/><path fill="#642670" d="M39 53h1v1H39z"/><path fill="#60256c" d="M40 53h1v1H40z"/><path fill="#4c1e62" d="M0 54h1v1H0zM2 55h1v1H2zM6 55h1v1H6zM25 55h1v1H25z"/><path fill="#4e1e63" d="M1 54h1v1H1z"/><path fill="#501e64" d="M2 54h1v1H2zM1 56h1v1H1zM0 61h1v1H0z"/><path fill="#522065" d="M3 54h1v1H3z"/><path fill="#542266" d="M4 54h1v1H4z"/><path fill="#552266" d="M5 54h1v1H5z"/><path fill="#562266" d="M6 54h1v1H6z"/><path fill="#522165" d="M7 54h1v1H7z"/><path fill="#4e2064" d="M8 54h1v1H8zM4 55h1v1H4z"/><path fill="#4c1f63" d="M9 54h1v1H9z"/><path fill="#481d61" d="M11 54h1v1H11zM13 56h1v1H13zM24 57h1v1H24z"/><path fill="#451c5f" d="M13 54h1v1H13z"/><path fill="#441c5e" d="M14 54h1v1H14zM23 55h1v1H23z"/><path fill="#431b5d" d="M15 54h1v1H15z"/><path fill="#4a1d63" d="M24 54h1v1H24z"/><path fill="#532169" d="M26 54h1v1H26z"/><path fill="#5c256e" d="M28 54h1v1H28zM38 55h1v1H38z"/><path fill="#602670" d="M29 54h1v1H29z"/><path fill="#622671" d="M30 54h1v1H30z"/><path fill="#642672" d="M31 54h1v1H31z"/><path fill="#632672" d="M32 54h1v1H32z"/><path fill="#612571" d="M34 54h1v1H34zM36 54h1v1H36zM38 54h1v1H38z"/><path fill="#602470" d="M35 54h1v1H35zM39 54h1v1H39z"/><path fill="#5c246d" d="M40 54h1v1H40z"/><path fill="#58246a" d="M41 54h1v1H41z"/><path fill="#4a1c60" d="M0 55h1v1H0zM25 56h1v1H25z"/><path fill="#4b1d61" d="M1 55h1v1H1z"/><path fill="#4d1f63" d="M3 55h1v1H3zM5 55h1v1H5z"/><path fill="#461c5f" d="M9 55h1v1H9zM15 56h1v1H15zM13 57h1v1H13zM22 58h1v1H22z"/><path fill="#461c5e" d="M10 55h1v1H10zM4 56h1v1H4zM16 56h1v1H16zM14 57h3v1H14zM23 58h1v1H23z"/><path fill="#471c5f" d="M11 55h1v1H11z"/><path fill="#461b5f" d="M13 55h1v1H13z"/><path fill="#431b5e" d="M22 55h1v1H22z"/><path fill="#481d60" d="M24 55h1v1H24z"/><path fill="#532167" d="M26 55h1v1H26z"/><path fill="#622670" d="M29 55h1v1H29z"/><path fill="#62266f" d="M30 55h1v1H30z"/><path fill="#60256d" d="M32 55h1v1H32z"/><path fill="#5e246c" d="M33 55h1v1H33z"/><path fill="#5d246c" d="M34 55h1v1H34z"/><path fill="#5d256e" d="M36 55h1v1H36z"/><path fill="#57236b" d="M40 55h1v1H40z"/><path fill="#521e66" d="M0 56h1v1H0zM39 57h1v1H39zM0 59h1v1H0zM0 60h1v1H0z"/><path fill="#4a1d60" d="M3 56h1v1H3z"/><path fill="#451b5d" d="M5 56h1v1H5z"/><path fill="#441a5c" d="M6 56h1v1H6zM16 58h1v1H16zM14 59h1v1H14z"/><path fill="#441a5d" d="M7 56h1v1H7zM15 58h1v1H15zM17 58h1v1H17z"/><path fill="#451b5e" d="M17 56h1v1H17zM17 57h1v1H17zM3 59h1v1H3z"/><path fill="#471b5f" d="M24 56h1v1H24z"/><path fill="#522064" d="M26 56h1v1H26z"/><path fill="#5e256a" d="M28 56h1v1H28z"/><path fill="#5f256a" d="M32 56h1v1H32z"/><path fill="#5a246b" d="M36 56h1v1H36z"/><path fill="#58236a" d="M38 56h1v1H38z"/><path fill="#562268" d="M39 56h1v1H39z"/><path fill="#532067" d="M40 56h1v1H40z"/><path fill="#581e6c" d="M0 57h1v1H0z"/><path fill="#531e68" d="M1 57h1v1H1z"/><path fill="#40195b" d="M5 57h1v1H5zM7 57h1v1H7z"/><path fill="#3e185a" d="M6 57h1v1H6zM6 59h1v1H6zM4 60h1v1H4zM12 60h1v1H12zM4 61h1v1H4z"/><path fill="#522164" d="M26 57h1v1H26z"/><path fill="#5a2466" d="M27 57h1v1H27zM33 57h1v1H33z"/><path fill="#5e2567" d="M28 57h1v1H28z"/><path fill="#622668" d="M29 57h1v1H29z"/><path fill="#602567" d="M30 57h1v1H30zM28 58h1v1H28z"/><path fill="#5e2466" d="M31 57h1v1H31zM31 58h1v1H31z"/><path fill="#5c2466" d="M32 57h1v1H32zM27 58h1v1H27z"/><path fill="#592368" d="M34 57h1v1H34z"/><path fill="#58226a" d="M35 57h1v1H35z"/><path fill="#532068" d="M38 57h1v1H38z"/><path fill="#4e1d64" d="M40 57h1v1H40zM1 59h1v1H1zM1 60h1v1H1z"/><path fill="#561e68" d="M0 58h1v1H0z"/><path fill="#521e65" d="M1 58h1v1H1z"/><path fill="#481c5f" d="M3 58h1v1H3z"/><path fill="#411a5b" d="M5 58h1v1H5zM7 58h1v1H7zM11 59h1v1H11z"/><path fill="#401a5a" d="M6 58h1v1H6zM4 59h1v1H4zM10 59h1v1H10z"/><path fill="#491d5f" d="M24 58h1v1H24z"/><path fill="#4c1e60" d="M25 58h1v1H25z"/><path fill="#542163" d="M26 58h1v1H26z"/><path fill="#642668" d="M29 58h1v1H29z"/><path fill="#612567" d="M30 58h1v1H30z"/><path fill="#5c2465" d="M32 58h1v1H32z"/><path fill="#5a2464" d="M33 58h1v1H33z"/><path fill="#5a2364" d="M34 58h1v1H34z"/><path fill="#5a2264" d="M35 58h1v1H35z"/><path fill="#572267" d="M36 58h1v1H36z"/><path fill="#522068" d="M38 58h1v1H38z"/><path fill="#4c1d64" d="M40 58h1v1H40z"/><path fill="#3f195a" d="M5 59h1v1H5z"/><path fill="#3f195b" d="M7 59h1v1H7z"/><path fill="#401a5c" d="M8 59h1v1H8z"/><path fill="#401a5b" d="M9 59h1v1H9z"/><path fill="#431a5c" d="M13 59h1v1H13z"/><path fill="#431a5b" d="M15 59h1v1H15z"/><path fill="#421a5a" d="M16 59h1v1H16zM14 61h1v1H14z"/><path fill="#421a5b" d="M17 59h1v1H17z"/><path fill="#481c5e" d="M24 59h1v1H24zM24 60h1v1H24zM24 61h1v1H24z"/><path fill="#4c1e5e" d="M25 59h1v1H25zM25 60h1v1H25zM25 61h1v1H25z"/><path fill="#552161" d="M26 59h1v1H26zM26 60h1v1H26zM26 61h1v1H26z"/><path fill="#5e2464" d="M27 59h1v1H27zM27 60h1v1H27zM27 61h1v1H27z"/><path fill="#632565" d="M28 59h1v1H28zM28 60h1v1H28zM28 61h1v1H28z"/><path fill="#682666" d="M29 59h1v1H29zM29 60h1v1H29zM29 61h1v1H29z"/><path fill="#642565" d="M30 59h1v1H30zM30 60h1v1H30zM30 61h1v1H30z"/><path fill="#602464" d="M31 59h1v1H31zM31 60h1v1H31zM31 61h1v1H31z"/><path fill="#5d2363" d="M32 59h1v1H32zM32 60h1v1H32zM32 61h1v1H32z"/><path fill="#5a2262" d="M33 59h1v1H33zM33 60h1v1H33zM33 61h1v1H33z"/><path fill="#592063" d="M34 59h1v1H34zM34 60h1v1H34zM34 61h1v1H34z"/><path fill="#581e64" d="M35 59h1v1H35zM35 60h1v1H35zM35 61h1v1H35z"/><path fill="#562067" d="M36 59h1v1H36zM36 60h1v1H36zM36 61h1v1H36z"/><path fill="#4a1d62" d="M40 59h1v1H40zM40 60h1v1H40zM40 61h1v1H40z"/><path fill="#3d185a" d="M5 60h1v1H5z"/><path fill="#3c185a" d="M6 60h1v1H6z"/><path fill="#3b1859" d="M7 60h1v1H7z"/><path fill="#3a1858" d="M8 60h3v1H8zM6 61h1v1H6zM12 61h1v1H12z"/><path fill="#3c1859" d="M11 60h1v1H11zM5 61h1v1H5z"/><path fill="#41195a" d="M13 60h1v1H13z"/><path fill="#441a5a" d="M14 60h1v1H14z"/><path fill="#431a59" d="M15 60h1v1H15z"/><path fill="#421a58" d="M16 60h1v1H16zM16 61h1v1H16z"/><path fill="#411959" d="M17 60h1v1H17zM17 61h1v1H17z"/><path fill="#40185a" d="M18 60h1v1H18zM18 61h1v1H18z"/><path fill="#41195b" d="M19 60h1v1H19zM19 61h1v1H19z"/><path fill="#4c1d62" d="M1 61h1v1H1z"/><path fill="#391858" d="M7 61h1v1H7z"/><path fill="#381858" d="M8 61h1v1H8z"/><path fill="#371758" d="M9 61h1v1H9z"/><path fill="#361658" d="M10 61h1v1H10z"/><path fill="#381758" d="M11 61h1v1H11z"/><path fill="#3e1959" d="M13 61h1v1H13z"/><path fill="#421a59" d="M15 61h1v1H15z"/></svg><svg class="pn" style="left:873px" viewBox="0 0 42 62" preserveAspectRatio="none" shape-rendering="crispEdges"><path fill="#9a1a6e" d="M0 0h1v1H0z"/><path fill="#9b1a6e" d="M1 0h1v1H1z"/><path fill="#9c1a6e" d="M2 0h1v1H2zM2 4h1v1H2z"/><path fill="#9e1a70" d="M3 0h1v1H3z"/><path fill="#a01a72" d="M4 0h1v1H4zM20 7h1v1H20z"/><path fill="#a51b75" d="M5 0h1v1H5z"/><path fill="#aa1c78" d="M6 0h1v1H6zM16 4h1v1H16zM17 9h1v1H17z"/><path fill="#af1d7c" d="M7 0h1v1H7zM7 1h1v1H7zM15 3h1v1H15zM15 4h1v1H15z"/><path fill="#b41e80" d="M8 0h1v1H8zM16 0h1v1H16zM8 1h1v1H8zM8 2h1v1H8zM14 2h1v1H14zM14 3h1v1H14zM14 4h1v1H14zM16 5h1v1H16z"/><path fill="#b81f82" d="M9 0h1v1H9zM9 1h1v1H9zM15 5h1v1H15z"/><path fill="#bc2084" d="M10 0h3v1H10zM10 5h5v1H10zM10 6h3v1H10z"/><path fill="#ba1f83" d="M13 0h1v1H13zM10 1h3v1H10zM13 6h1v1H13z"/><path fill="#b81e82" d="M14 0h1v1H14zM13 1h1v1H13zM10 2h3v1H10zM10 3h3v1H10zM10 4h3v1H10zM14 6h1v1H14z"/><path fill="#b61e81" d="M15 0h1v1H15zM14 1h1v1H14zM9 2h1v1H9zM13 2h1v1H13zM13 3h1v1H13zM13 4h1v1H13z"/><path fill="#b01d7d" d="M17 0h1v1H17zM16 1h1v1H16zM15 2h1v1H15z"/><path fill="#ac1c7a" d="M18 0h1v1H18zM17 1h1v1H17zM16 2h1v1H16z"/><path fill="#aa1c79" d="M19 0h1v1H19zM18 1h1v1H18zM17 2h1v1H17z"/><path fill="#a81c78" d="M20 0h1v1H20zM19 1h1v1H19zM18 2h1v1H18zM18 5h1v1H18zM18 6h1v1H18zM16 7h1v1H16zM18 8h1v1H18zM18 9h1v1H18z"/><path fill="#a81a78" d="M21 0h1v1H21z"/><path fill="#a61a77" d="M22 0h1v1H22z"/><path fill="#a41a76" d="M23 0h1v1H23zM22 1h1v1H22zM20 2h1v1H20zM21 4h1v1H21zM20 6h1v1H20zM20 8h1v1H20z"/><path fill="#a11a74" d="M24 0h1v1H24zM23 3h1v1H23zM22 5h1v1H22z"/><path fill="#9e1a72" d="M25 0h1v1H25zM24 3h1v1H24zM23 6h1v1H23z"/><path fill="#9c1a71" d="M26 0h1v1H26zM25 2h1v1H25zM24 6h1v1H24z"/><path fill="#9a1a70" d="M27 0h1v1H27zM26 2h1v1H26zM25 4h1v1H25zM25 5h1v1H25zM25 6h1v1H25z"/><path fill="#991a6f" d="M28 0h1v1H28zM24 7h1v1H24z"/><path fill="#981a6e" d="M29 0h1v1H29zM23 8h1v1H23z"/><path fill="#96196f" d="M30 0h1v1H30zM24 8h1v1H24z"/><path fill="#941870" d="M31 0h1v1H31zM25 8h1v1H25z"/><path fill="#921870" d="M32 0h1v1H32z"/><path fill="#901870" d="M33 0h3v1H33zM36 1h1v1H36z"/><path fill="#a83ca0" d="M36 0h1v1H36z"/><path fill="#a23b9c" d="M37 0h1v1H37z"/><path fill="#9c3a98" d="M38 0h1v1H38zM37 2h1v1H37z"/><path fill="#983895" d="M39 0h1v1H39zM38 2h1v1H38z"/><path fill="#943692" d="M40 0h1v1H40zM39 2h1v1H39zM38 4h1v1H38z"/><path fill="#903490" d="M41 0h1v1H41z"/><path fill="#9a1a6d" d="M0 1h1v1H0z"/><path fill="#9b1a6d" d="M1 1h1v1H1zM1 4h1v1H1z"/><path fill="#9c1a6d" d="M2 1h1v1H2zM2 3h1v1H2z"/><path fill="#9e1a6f" d="M3 1h1v1H3z"/><path fill="#a11a72" d="M4 1h1v1H4z"/><path fill="#a71b76" d="M5 1h1v1H5z"/><path fill="#ac1c79" d="M6 1h1v1H6z"/><path fill="#b21d7e" d="M15 1h1v1H15z"/><path fill="#a61b77" d="M20 1h1v1H20zM19 2h1v1H19zM19 6h1v1H19zM19 8h1v1H19z"/><path fill="#a51a76" d="M21 1h1v1H21z"/><path fill="#a31a76" d="M23 1h1v1H23zM21 2h1v1H21zM21 3h1v1H21z"/><path fill="#a01a74" d="M24 1h1v1H24zM23 4h1v1H23z"/><path fill="#9d1a72" d="M25 1h1v1H25zM24 4h1v1H24zM24 5h1v1H24z"/><path fill="#9b1a70" d="M26 1h1v1H26zM25 3h1v1H25zM23 7h1v1H23z"/><path fill="#981a70" d="M27 1h1v1H27zM26 3h1v1H26z"/><path fill="#971a6e" d="M28 1h1v1H28z"/><path fill="#961a6e" d="M29 1h1v1H29z"/><path fill="#94196e" d="M30 1h1v1H30z"/><path fill="#92186e" d="M31 1h1v1H31zM26 8h1v1H26z"/><path fill="#90186e" d="M32 1h1v1H32z"/><path fill="#8e186e" d="M33 1h3v1H33z"/><path fill="#9f3a9a" d="M37 1h1v1H37z"/><path fill="#9a3996" d="M38 1h1v1H38z"/><path fill="#963794" d="M39 1h1v1H39zM38 3h1v1H38z"/><path fill="#923592" d="M40 1h1v1H40zM39 3h1v1H39z"/><path fill="#8d3390" d="M41 1h1v1H41z"/><path fill="#9a1a6c" d="M0 2h1v1H0zM0 3h1v1H0zM0 4h1v1H0z"/><path fill="#9b1a6c" d="M1 2h1v1H1zM1 3h1v1H1z"/><path fill="#9c1a6c" d="M2 2h1v1H2zM2 5h1v1H2z"/><path fill="#9f1a6f" d="M3 2h1v1H3z"/><path fill="#a21a72" d="M4 2h1v1H4z"/><path fill="#a81b76" d="M5 2h1v1H5z"/><path fill="#ae1c7a" d="M6 2h1v1H6zM16 8h1v1H16z"/><path fill="#b11d7d" d="M7 2h1v1H7z"/><path fill="#a31a75" d="M22 2h1v1H22zM20 3h1v1H20zM21 5h1v1H21z"/><path fill="#a21a75" d="M23 2h1v1H23zM22 3h1v1H22zM22 4h1v1H22z"/><path fill="#9f1a73" d="M24 2h1v1H24zM23 5h1v1H23z"/><path fill="#97196f" d="M27 2h1v1H27zM26 4h1v1H26zM26 5h1v1H26z"/><path fill="#95196e" d="M28 2h1v1H28zM26 7h1v1H26z"/><path fill="#94196d" d="M29 2h1v1H29z"/><path fill="#92196c" d="M30 2h1v1H30z"/><path fill="#90186d" d="M31 2h1v1H31z"/><path fill="#8e186d" d="M32 2h1v1H32z"/><path fill="#8c176c" d="M33 2h4v1H33z"/><path fill="#8f3491" d="M40 2h1v1H40zM39 4h1v1H39z"/><path fill="#8a3290" d="M41 2h1v1H41zM41 3h1v1H41zM40 4h2v1H40zM40 5h2v1H40zM40 6h2v1H40zM40 7h2v1H40zM39 8h3v1H39zM39 9h1v1H39z"/><path fill="#a21b70" d="M3 3h1v1H3zM3 5h1v1H3z"/><path fill="#a51b73" d="M4 3h1v1H4z"/><path fill="#ab1c77" d="M5 3h1v1H5z"/><path fill="#b11d7b" d="M6 3h1v1H6zM15 8h1v1H15z"/><path fill="#b21d7d" d="M7 3h1v1H7z"/><path fill="#b51e80" d="M8 3h1v1H8z"/><path fill="#b71e81" d="M9 3h1v1H9zM9 4h1v1H9z"/><path fill="#ab1c79" d="M16 3h1v1H16zM17 8h1v1H17z"/><path fill="#a91c78" d="M17 3h1v1H17z"/><path fill="#a71b77" d="M18 3h1v1H18z"/><path fill="#a51b76" d="M19 3h1v1H19zM17 7h1v1H17z"/><path fill="#96186e" d="M27 3h1v1H27z"/><path fill="#94186e" d="M28 3h1v1H28zM27 4h1v1H27z"/><path fill="#92186c" d="M29 3h1v1H29zM27 6h1v1H27z"/><path fill="#90186c" d="M30 3h1v1H30zM29 4h1v1H29zM28 5h1v1H28zM27 8h1v1H27z"/><path fill="#8e186c" d="M31 3h1v1H31z"/><path fill="#8c186b" d="M32 3h1v1H32z"/><path fill="#8a166a" d="M33 3h4v1H33z"/><path fill="#881668" d="M37 3h1v1H37zM33 4h5v1H33zM32 5h1v1H32zM31 6h1v1H31zM27 10h1v1H27z"/><path fill="#8c3390" d="M40 3h1v1H40zM39 6h1v1H39z"/><path fill="#a21b71" d="M3 4h1v1H3z"/><path fill="#a81c74" d="M4 4h1v1H4zM4 5h1v1H4z"/><path fill="#ae1d78" d="M5 4h1v1H5zM15 9h1v1H15z"/><path fill="#b41e7c" d="M6 4h1v1H6zM14 8h1v1H14z"/><path fill="#b51e7e" d="M7 4h1v1H7z"/><path fill="#b61e80" d="M8 4h1v1H8z"/><path fill="#a81b77" d="M17 4h1v1H17z"/><path fill="#a61a76" d="M18 4h1v1H18z"/><path fill="#a41a75" d="M19 4h1v1H19z"/><path fill="#a21a74" d="M20 4h1v1H20zM21 6h1v1H21zM18 7h1v1H18z"/><path fill="#92186d" d="M28 4h1v1H28z"/><path fill="#8e186b" d="M30 4h1v1H30zM29 5h1v1H29zM28 7h1v1H28z"/><path fill="#8c186a" d="M31 4h1v1H31zM30 5h1v1H30zM29 6h1v1H29z"/><path fill="#8a1769" d="M32 4h1v1H32zM31 5h1v1H31zM30 6h1v1H30z"/><path fill="#9a1a6a" d="M0 5h1v1H0z"/><path fill="#9b1a6b" d="M1 5h1v1H1z"/><path fill="#ac1d77" d="M5 5h1v1H5z"/><path fill="#b01e7a" d="M6 5h1v1H6z"/><path fill="#b41e7d" d="M7 5h1v1H7z"/><path fill="#b81e80" d="M8 5h1v1H8zM8 6h1v1H8z"/><path fill="#ba1f82" d="M9 5h1v1H9zM9 6h1v1H9z"/><path fill="#ae1d7c" d="M17 5h1v1H17z"/><path fill="#a71c77" d="M19 5h1v1H19z"/><path fill="#a61c76" d="M20 5h1v1H20z"/><path fill="#93186d" d="M27 5h1v1H27z"/><path fill="#861667" d="M33 5h1v1H33zM36 5h2v1H36zM32 6h1v1H32zM38 7h1v1H38z"/><path fill="#851666" d="M34 5h2v1H34zM32 7h1v1H32z"/><path fill="#861666" d="M38 5h1v1H38zM38 6h1v1H38z"/><path fill="#8e3491" d="M39 5h1v1H39z"/><path fill="#9a1a5a" d="M0 6h1v1H0z"/><path fill="#9b1a5e" d="M1 6h1v1H1z"/><path fill="#9c1a62" d="M2 6h1v1H2z"/><path fill="#a21b69" d="M3 6h1v1H3z"/><path fill="#a81c70" d="M4 6h1v1H4zM19 10h1v1H19z"/><path fill="#ae1d75" d="M5 6h1v1H5z"/><path fill="#b41e7a" d="M6 6h1v1H6zM12 8h1v1H12z"/><path fill="#b61e7d" d="M7 6h1v1H7z"/><path fill="#b41e7f" d="M15 6h1v1H15z"/><path fill="#b01e7c" d="M16 6h1v1H16zM14 7h1v1H14z"/><path fill="#ac1d7a" d="M17 6h1v1H17zM15 7h1v1H15z"/><path fill="#a01a73" d="M22 6h1v1H22z"/><path fill="#96196e" d="M26 6h1v1H26z"/><path fill="#8f186b" d="M28 6h1v1H28z"/><path fill="#841666" d="M33 6h1v1H33zM37 6h1v1H37zM37 7h1v1H37zM32 8h1v1H32zM37 8h1v1H37zM32 9h1v1H32zM36 9h2v1H36zM31 10h1v1H31zM35 10h3v1H35z"/><path fill="#831665" d="M34 6h1v1H34zM36 6h1v1H36zM33 7h1v1H33zM36 7h1v1H36zM36 8h1v1H36zM35 9h1v1H35zM32 10h1v1H32zM34 10h1v1H34z"/><path fill="#821664" d="M35 6h1v1H35zM34 7h2v1H34zM33 8h3v1H33zM33 9h2v1H33zM33 10h1v1H33zM31 11h1v1H31z"/><path fill="#9a1a58" d="M0 7h1v1H0z"/><path fill="#9b1a5a" d="M1 7h1v1H1z"/><path fill="#9c1a5c" d="M2 7h1v1H2z"/><path fill="#a21b60" d="M3 7h1v1H3z"/><path fill="#a81c64" d="M4 7h1v1H4zM17 10h1v1H17z"/><path fill="#ab1c68" d="M5 7h1v1H5z"/><path fill="#ae1c6c" d="M6 7h1v1H6z"/><path fill="#b11d71" d="M7 7h1v1H7z"/><path fill="#b41e76" d="M8 7h1v1H8zM10 8h1v1H10z"/><path fill="#b51e79" d="M9 7h1v1H9z"/><path fill="#b61e7c" d="M10 7h1v1H10z"/><path fill="#b51e7d" d="M11 7h1v1H11z"/><path fill="#b41e7e" d="M12 7h1v1H12z"/><path fill="#b21e7d" d="M13 7h1v1H13z"/><path fill="#a11a73" d="M19 7h1v1H19z"/><path fill="#9f1a72" d="M21 7h1v1H21z"/><path fill="#9d1a71" d="M22 7h1v1H22z"/><path fill="#971970" d="M25 7h1v1H25z"/><path fill="#91186c" d="M27 7h1v1H27z"/><path fill="#8b186a" d="M29 7h1v1H29z"/><path fill="#891769" d="M30 7h1v1H30z"/><path fill="#871668" d="M31 7h1v1H31zM28 10h1v1H28z"/><path fill="#8b3290" d="M39 7h1v1H39z"/><path fill="#8a1a90" d="M0 8h1v1H0zM1 9h1v1H1zM3 10h1v1H3zM3 12h1v1H3z"/><path fill="#8a1a80" d="M1 8h1v1H1z"/><path fill="#9a1a60" d="M2 8h1v1H2z"/><path fill="#b83848" d="M3 8h6v1H3zM4 9h8v1H4zM4 10h13v1H4zM5 11h15v1H5zM4 12h21v1H4zM11 13h17v1H11zM11 14h22v1H11zM21 15h16v1H21zM21 16h17v1H21zM29 17h11v1H29zM29 18h12v1H29zM39 19h3v1H39zM39 20h3v1H39z"/><path fill="#b01c70" d="M9 8h1v1H9z"/><path fill="#b41e78" d="M11 8h1v1H11z"/><path fill="#b41e7b" d="M13 8h1v1H13z"/><path fill="#9c1a70" d="M21 8h1v1H21z"/><path fill="#9a1a6f" d="M22 8h1v1H22z"/><path fill="#8d186b" d="M28 8h1v1H28z"/><path fill="#8a186a" d="M29 8h1v1H29z"/><path fill="#881769" d="M30 8h1v1H30zM29 9h1v1H29z"/><path fill="#861668" d="M31 8h1v1H31zM38 8h1v1H38zM30 9h1v1H30zM38 9h1v1H38zM29 10h1v1H29zM38 10h1v1H38z"/><path fill="#8a1aa0" d="M0 9h1v1H0z"/><path fill="#9a1a68" d="M2 9h1v1H2z"/><path fill="#a21a5a" d="M3 9h1v1H3z"/><path fill="#a81c68" d="M12 9h1v1H12z"/><path fill="#ac1d70" d="M13 9h1v1H13z"/><path fill="#b01e78" d="M14 9h1v1H14z"/><path fill="#ac1c78" d="M16 9h1v1H16z"/><path fill="#a61b76" d="M19 9h1v1H19z"/><path fill="#a41a74" d="M20 9h1v1H20z"/><path fill="#98196c" d="M21 9h1v1H21z"/><path fill="#96196b" d="M22 9h1v1H22z"/><path fill="#93186b" d="M23 9h1v1H23z"/><path fill="#91186b" d="M24 9h1v1H24z"/><path fill="#8f176c" d="M25 9h1v1H25z"/><path fill="#8d176a" d="M26 9h1v1H26z"/><path fill="#8c176a" d="M27 9h1v1H27z"/><path fill="#8b176a" d="M28 9h1v1H28z"/><path fill="#851667" d="M31 9h1v1H31zM30 10h1v1H30z"/><path fill="#883190" d="M40 9h2v1H40z"/><path fill="#8a14a0" d="M0 10h1v1H0z"/><path fill="#8a18a0" d="M1 10h2v1H1zM1 11h2v1H1zM1 12h2v1H1z"/><path fill="#a81c6a" d="M18 10h1v1H18z"/><path fill="#a41a70" d="M20 10h1v1H20z"/><path fill="#941868" d="M21 10h1v1H21z"/><path fill="#911768" d="M22 10h1v1H22z"/><path fill="#8e1668" d="M23 10h1v1H23z"/><path fill="#8c1668" d="M24 10h1v1H24z"/><path fill="#8a1668" d="M25 10h1v1H25z"/><path fill="#891668" d="M26 10h1v1H26z"/><path fill="#843090" d="M39 10h1v1H39zM40 11h2v1H40z"/><path fill="#863190" d="M40 10h2v1H40z"/><path fill="#bb6698" d="M0 11h1v1H0zM0 12h1v1H0zM0 13h11v1H0zM0 14h11v1H0zM0 15h21v1H0zM0 16h21v1H0zM0 17h29v1H0zM0 18h29v1H0zM0 19h39v1H0zM0 20h39v1H0zM0 21h42v1H0zM0 22h42v1H0zM0 23h42v1H0zM0 24h42v1H0zM0 25h42v1H0zM0 26h42v1H0zM0 27h42v1H0zM0 28h42v1H0zM0 29h42v1H0zM0 30h42v1H0zM0 31h42v1H0zM0 32h42v1H0zM0 33h42v1H0zM0 34h42v1H0zM0 35h42v1H0zM0 36h42v1H0zM0 37h42v1H0zM1 38h41v1H1zM2 39h40v1H2zM3 40h39v1H3zM5 41h37v1H5zM7 42h35v1H7zM9 43h33v1H9zM10 44h32v1H10zM17 45h25v1H17zM17 46h25v1H17zM27 47h15v1H27zM27 48h15v1H27zM37 49h5v1H37zM37 50h5v1H37z"/><path fill="#8c1a98" d="M3 11h1v1H3z"/><path fill="#a01a58" d="M4 11h1v1H4z"/><path fill="#981a58" d="M20 11h1v1H20z"/><path fill="#941860" d="M21 11h1v1H21z"/><path fill="#8f1761" d="M22 11h1v1H22z"/><path fill="#8a1662" d="M23 11h1v1H23z"/><path fill="#881563" d="M24 11h1v1H24z"/><path fill="#861464" d="M25 11h1v1H25z"/><path fill="#861465" d="M26 11h1v1H26z"/><path fill="#861466" d="M27 11h1v1H27zM39 11h1v1H39z"/><path fill="#851466" d="M28 11h1v1H28z"/><path fill="#841466" d="M29 11h1v1H29z"/><path fill="#831565" d="M30 11h1v1H30z"/><path fill="#811563" d="M32 11h1v1H32z"/><path fill="#801462" d="M33 11h3v1H33z"/><path fill="#811463" d="M36 11h1v1H36zM38 12h1v1H38z"/><path fill="#821464" d="M37 11h1v1H37z"/><path fill="#841465" d="M38 11h1v1H38z"/><path fill="#841448" d="M25 12h1v1H25z"/><path fill="#83144c" d="M26 12h1v1H26z"/><path fill="#821450" d="M27 12h1v1H27z"/><path fill="#811454" d="M28 12h1v1H28z"/><path fill="#801458" d="M29 12h1v1H29z"/><path fill="#7f145a" d="M30 12h1v1H30z"/><path fill="#7e145c" d="M31 12h1v1H31z"/><path fill="#7d145e" d="M32 12h1v1H32z"/><path fill="#7c1460" d="M33 12h1v1H33z"/><path fill="#7c1461" d="M34 12h1v1H34z"/><path fill="#7c1462" d="M35 12h1v1H35z"/><path fill="#7e1463" d="M36 12h1v1H36z"/><path fill="#801464" d="M37 12h1v1H37z"/><path fill="#702a80" d="M39 12h3v1H39z"/><path fill="#7e1248" d="M28 13h1v1H28z"/><path fill="#7d124a" d="M29 13h1v1H29z"/><path fill="#7c124c" d="M30 13h1v1H30z"/><path fill="#7c124e" d="M31 13h1v1H31z"/><path fill="#7c1250" d="M32 13h1v1H32z"/><path fill="#7c1354" d="M33 13h1v1H33z"/><path fill="#7c1458" d="M34 13h1v1H34z"/><path fill="#7e1355" d="M35 13h1v1H35z"/><path fill="#7c145c" d="M36 13h1v1H36z"/><path fill="#7f1358" d="M37 13h1v1H37z"/><path fill="#7e1460" d="M38 13h1v1H38z"/><path fill="#0055ff" d="M39 13h3v1H39zM39 14h3v1H39zM39 15h3v1H39zM0 51h6v1H0zM11 51h1v1H11zM0 52h13v1H0zM0 53h13v1H0zM0 54h13v1H0zM0 55h13v1H0zM0 56h14v1H0zM0 57h14v1H0zM0 58h15v1H0zM0 59h15v1H0zM0 60h16v1H0zM0 61h16v1H0z"/><path fill="#801244" d="M33 14h1v1H33z"/><path fill="#801246" d="M34 14h1v1H34z"/><path fill="#801248" d="M35 14h1v1H35z"/><path fill="#7f124a" d="M36 14h1v1H36z"/><path fill="#7e124c" d="M37 14h1v1H37z"/><path fill="#5525a0" d="M38 14h1v1H38zM37 15h2v1H37zM38 16h1v1H38zM21 47h6v1H21zM16 48h3v1H16zM22 48h5v1H22zM15 49h5v1H15zM22 49h9v1H22zM13 50h15v1H13zM12 51h13v1H12zM13 52h11v1H13zM13 53h12v1H13zM13 54h14v1H13zM13 55h14v1H13zM14 56h13v1H14zM14 57h11v1H14zM15 58h9v1H15zM15 59h8v1H15zM16 60h5v1H16zM16 61h5v1H16z"/><path fill="#c8ffff" d="M39 16h3v1H39zM40 17h2v1H40z"/><path fill="#ff8a3a" d="M41 18h1v1H41z"/><path fill="#a8309a" d="M0 43h1v1H0z"/><path fill="#a93199" d="M1 43h1v1H1z"/><path fill="#aa3298" d="M2 43h1v1H2z"/><path fill="#ab339a" d="M3 43h1v1H3z"/><path fill="#ac349c" d="M4 43h1v1H4zM4 44h1v1H4zM6 46h1v1H6z"/><path fill="#aa349c" d="M5 43h1v1H5z"/><path fill="#a8349c" d="M6 43h1v1H6zM8 45h1v1H8z"/><path fill="#a134a2" d="M7 43h1v1H7z"/><path fill="#9a34a8" d="M8 43h1v1H8z"/><path fill="#a0309a" d="M0 44h1v1H0z"/><path fill="#a3319a" d="M1 44h1v1H1z"/><path fill="#a6329a" d="M2 44h1v1H2z"/><path fill="#a9339b" d="M3 44h1v1H3z"/><path fill="#ae359d" d="M5 44h1v1H5z"/><path fill="#b0369e" d="M6 44h1v1H6zM6 45h1v1H6z"/><path fill="#ac359e" d="M7 44h1v1H7z"/><path fill="#a8349e" d="M8 44h1v1H8z"/><path fill="#9a3096" d="M0 45h1v1H0z"/><path fill="#9d3197" d="M1 45h1v1H1z"/><path fill="#a03298" d="M2 45h1v1H2zM6 47h1v1H6z"/><path fill="#a43399" d="M3 45h1v1H3z"/><path fill="#a8349a" d="M4 45h1v1H4z"/><path fill="#ac359c" d="M5 45h1v1H5z"/><path fill="#ac359d" d="M7 45h1v1H7z"/><path fill="#9a3296" d="M9 45h1v1H9z"/><path fill="#8a1060" d="M10 45h4v1H10zM13 46h1v1H13zM11 48h4v1H11zM11 49h1v1H11z"/><path fill="#860f5d" d="M14 45h1v1H14z"/><path fill="#820f5b" d="M15 45h1v1H15z"/><path fill="#7e0e58" d="M16 45h1v1H16z"/><path fill="#983094" d="M0 46h1v1H0z"/><path fill="#9a3095" d="M1 46h1v1H1z"/><path fill="#9c3096" d="M2 46h1v1H2zM4 47h1v1H4zM8 47h1v1H8z"/><path fill="#a23297" d="M3 46h1v1H3z"/><path fill="#a83498" d="M4 46h1v1H4z"/><path fill="#aa349a" d="M5 46h1v1H5z"/><path fill="#a8349b" d="M7 46h1v1H7z"/><path fill="#a4349a" d="M8 46h1v1H8z"/><path fill="#9a329a" d="M9 46h1v1H9z"/><path fill="#90309a" d="M10 46h1v1H10z"/><path fill="#88105f" d="M11 46h2v1H11zM12 47h1v1H12z"/><path fill="#87105e" d="M14 46h1v1H14zM12 49h1v1H12z"/><path fill="#83105c" d="M15 46h1v1H15zM15 48h1v1H15z"/><path fill="#7f0f59" d="M16 46h1v1H16z"/><path fill="#922e92" d="M0 47h1v1H0z"/><path fill="#942e93" d="M1 47h1v1H1z"/><path fill="#962e94" d="M2 47h1v1H2z"/><path fill="#992f95" d="M3 47h1v1H3z"/><path fill="#9e3197" d="M5 47h1v1H5zM7 47h1v1H7z"/><path fill="#933093" d="M9 47h1v1H9z"/><path fill="#8a3090" d="M10 47h1v1H10z"/><path fill="#86105e" d="M11 47h1v1H11zM13 49h2v1H13z"/><path fill="#891060" d="M13 47h1v1H13z"/><path fill="#89105f" d="M14 47h1v1H14z"/><path fill="#84105d" d="M15 47h1v1H15z"/><path fill="#80105a" d="M16 47h1v1H16z"/><path fill="#7e0f59" d="M17 47h1v1H17z"/><path fill="#7d0e58" d="M18 47h1v1H18z"/><path fill="#7c0e58" d="M19 47h2v1H19zM19 48h1v1H19z"/><path fill="#882a88" d="M0 48h1v1H0z"/><path fill="#892b89" d="M1 48h1v1H1z"/><path fill="#8a2c8a" d="M2 48h1v1H2z"/><path fill="#8c2d8b" d="M3 48h1v1H3z"/><path fill="#8e2e8c" d="M4 48h1v1H4z"/><path fill="#8f2e8c" d="M5 48h1v1H5z"/><path fill="#902e8c" d="M6 48h1v1H6z"/><path fill="#8e2e8b" d="M7 48h1v1H7z"/><path fill="#8c2e8a" d="M8 48h1v1H8z"/><path fill="#882d88" d="M9 48h1v1H9z"/><path fill="#842c86" d="M10 48h1v1H10z"/><path fill="#7b0e57" d="M20 48h1v1H20z"/><path fill="#7a0e56" d="M21 48h1v1H21zM20 49h1v1H20zM33 51h1v1H33zM32 52h2v1H32zM31 53h2v1H31zM38 53h2v1H38zM31 54h2v1H31zM38 54h2v1H38zM38 55h1v1H38zM38 56h1v1H38z"/><path fill="#7e2a80" d="M0 49h3v1H0z"/><path fill="#802a81" d="M3 49h1v1H3z"/><path fill="#822a82" d="M4 49h1v1H4z"/><path fill="#822b83" d="M5 49h1v1H5z"/><path fill="#822c84" d="M6 49h1v1H6z"/><path fill="#812b83" d="M7 49h1v1H7z"/><path fill="#802a82" d="M8 49h1v1H8z"/><path fill="#7d2a81" d="M9 49h1v1H9z"/><path fill="#7a2a80" d="M10 49h1v1H10z"/><path fill="#790e55" d="M21 49h1v1H21zM33 50h1v1H33zM39 55h1v1H39zM38 57h1v1H38zM37 58h1v1H37zM36 59h1v1H36zM35 60h1v1H35zM34 61h1v1H34z"/><path fill="#740e52" d="M31 49h1v1H31zM30 50h1v1H30zM28 56h1v1H28zM28 57h1v1H28zM27 60h1v1H27z"/><path fill="#760e53" d="M32 49h1v1H32zM31 50h1v1H31zM30 51h1v1H30zM29 55h1v1H29zM40 55h1v1H40zM39 58h1v1H39zM38 59h1v1H38zM37 60h1v1H37zM36 61h1v1H36z"/><path fill="#770f54" d="M33 49h1v1H33zM29 57h1v1H29zM28 59h1v1H28z"/><path fill="#790f56" d="M34 49h1v1H34zM30 56h1v1H30z"/><path fill="#7a1057" d="M35 49h1v1H35z"/><path fill="#7c1058" d="M36 49h1v1H36zM36 50h1v1H36zM35 51h2v1H35zM38 51h1v1H38zM35 52h2v1H35zM34 53h3v1H34zM34 54h3v1H34zM34 55h3v1H34zM31 56h6v1H31zM31 57h5v1H31zM31 58h4v1H31zM30 59h4v1H30zM30 60h3v1H30zM29 61h3v1H29z"/><path fill="#6e2670" d="M0 50h1v1H0z"/><path fill="#6e2671" d="M1 50h1v1H1z"/><path fill="#6e2672" d="M2 50h1v1H2z"/><path fill="#6d2673" d="M3 50h1v1H3z"/><path fill="#6c2674" d="M4 50h1v1H4z"/><path fill="#6d2675" d="M5 50h1v1H5z"/><path fill="#6e2676" d="M6 50h3v1H6z"/><path fill="#6c2675" d="M9 50h1v1H9z"/><path fill="#6a2674" d="M10 50h1v1H10z"/><path fill="#6a2470" d="M11 50h1v1H11z"/><path fill="#84105c" d="M12 50h1v1H12z"/><path fill="#720e50" d="M28 50h1v1H28zM25 51h3v1H25zM27 56h1v1H27zM27 57h1v1H27zM41 57h1v1H41z"/><path fill="#730e51" d="M29 50h1v1H29z"/><path fill="#770e54" d="M32 50h1v1H32zM31 51h1v1H31zM30 52h1v1H30zM40 54h1v1H40z"/><path fill="#7a0f56" d="M34 50h1v1H34zM37 56h1v1H37zM37 57h1v1H37zM36 58h1v1H36zM35 59h1v1H35zM34 60h1v1H34zM33 61h1v1H33z"/><path fill="#7b0f57" d="M35 50h1v1H35zM34 51h1v1H34zM37 51h1v1H37zM34 52h1v1H34zM37 52h3v1H37zM33 53h1v1H33zM37 53h1v1H37zM33 54h1v1H33zM37 54h1v1H37zM31 55h3v1H31zM37 55h1v1H37z"/><path fill="#642470" d="M6 51h1v1H6z"/><path fill="#652471" d="M7 51h1v1H7z"/><path fill="#662472" d="M8 51h1v1H8z"/><path fill="#632471" d="M9 51h1v1H9z"/><path fill="#602470" d="M10 51h1v1H10z"/><path fill="#720d50" d="M28 51h1v1H28zM24 52h1v1H24zM28 52h1v1H28zM40 59h1v1H40zM39 60h1v1H39zM38 61h1v1H38z"/><path fill="#750e52" d="M29 51h1v1H29zM29 52h1v1H29zM41 54h1v1H41zM40 57h1v1H40zM27 61h1v1H27z"/><path fill="#780e55" d="M32 51h1v1H32zM31 52h1v1H31zM30 55h1v1H30z"/><path fill="#7d1058" d="M39 51h2v1H39z"/><path fill="#7e1058" d="M41 51h1v1H41z"/><path fill="#710d4f" d="M25 52h3v1H25zM27 55h1v1H27z"/><path fill="#7c0f57" d="M40 52h1v1H40z"/><path fill="#7a0f55" d="M41 52h1v1H41z"/><path fill="#700c4e" d="M25 53h3v1H25zM27 54h1v1H27z"/><path fill="#720c50" d="M28 53h1v1H28z"/><path fill="#750d52" d="M29 53h1v1H29z"/><path fill="#780e54" d="M30 53h1v1H30zM40 53h1v1H40zM30 54h1v1H30zM39 56h1v1H39zM39 57h1v1H39zM38 58h1v1H38zM37 59h1v1H37zM36 60h1v1H36zM35 61h1v1H35z"/><path fill="#760e52" d="M41 53h1v1H41zM29 54h1v1H29zM40 56h1v1H40z"/><path fill="#730d50" d="M28 54h1v1H28z"/><path fill="#740e51" d="M28 55h1v1H28zM41 55h1v1H41zM40 58h1v1H40zM27 59h1v1H27z"/><path fill="#760e54" d="M29 56h1v1H29z"/><path fill="#730e50" d="M41 56h1v1H41zM27 58h1v1H27z"/><path fill="#6e0c4c" d="M25 57h1v1H25zM25 58h1v1H25zM25 59h1v1H25zM25 60h1v1H25zM25 61h1v1H25z"/><path fill="#700d4e" d="M26 57h1v1H26zM26 58h1v1H26zM26 59h1v1H26z"/><path fill="#7a1056" d="M30 57h1v1H30zM29 59h1v1H29z"/><path fill="#7b1057" d="M36 57h1v1H36zM30 58h1v1H30zM35 58h1v1H35zM34 59h1v1H34zM29 60h1v1H29zM33 60h1v1H33zM32 61h1v1H32z"/><path fill="#6d0c4c" d="M24 58h1v1H24zM24 59h1v1H24zM24 60h1v1H24zM24 61h1v1H24z"/><path fill="#760f53" d="M28 58h1v1H28z"/><path fill="#780f55" d="M29 58h1v1H29zM28 61h1v1H28z"/><path fill="#700e4f" d="M41 58h1v1H41z"/><path fill="#6c0c4b" d="M23 59h1v1H23zM23 60h1v1H23zM23 61h1v1H23z"/><path fill="#740d51" d="M39 59h1v1H39zM38 60h1v1H38zM37 61h1v1H37z"/><path fill="#6f0d4e" d="M41 59h1v1H41z"/><path fill="#6b0c4b" d="M21 60h1v1H21z"/><path fill="#6b0c4a" d="M22 60h1v1H22zM22 61h1v1H22z"/><path fill="#710d4e" d="M26 60h1v1H26z"/><path fill="#780f54" d="M28 60h1v1H28z"/><path fill="#700d4f" d="M40 60h1v1H40zM39 61h1v1H39z"/><path fill="#6e0c4d" d="M41 60h1v1H41zM40 61h1v1H40z"/><path fill="#6a0c4a" d="M21 61h1v1H21z"/><path fill="#720d4f" d="M26 61h1v1H26z"/><path fill="#6c0c4c" d="M41 61h1v1H41z"/></svg><svg class="pn" style="left:1730px" viewBox="0 0 42 62" preserveAspectRatio="none" shape-rendering="crispEdges"><path fill="#c0184a" d="M0 0h1v1H0zM12 45h1v1H12z"/><path fill="#c0174a" d="M1 0h1v1H1z"/><path fill="#c0164a" d="M2 0h1v1H2z"/><path fill="#c0154a" d="M3 0h1v1H3z"/><path fill="#c0144a" d="M4 0h1v1H4zM36 49h1v1H36z"/><path fill="#c01348" d="M5 0h1v1H5z"/><path fill="#bf1247" d="M6 0h1v1H6z"/><path fill="#bf1145" d="M7 0h1v1H7z"/><path fill="#bf1043" d="M8 0h1v1H8z"/><path fill="#be0f42" d="M9 0h1v1H9z"/><path fill="#be0e40" d="M10 0h1v1H10z"/><path fill="#be0d3f" d="M11 0h1v1H11z"/><path fill="#bd0d3d" d="M12 0h1v1H12z"/><path fill="#bd0c3c" d="M13 0h1v1H13z"/><path fill="#bd0b3b" d="M14 0h1v1H14z"/><path fill="#bc0b39" d="M15 0h1v1H15zM26 1h1v1H26zM26 2h1v1H26zM24 7h1v1H24zM22 8h2v1H22zM21 9h1v1H21z"/><path fill="#bc0a38" d="M16 0h2v1H16zM25 0h1v1H25zM24 6h1v1H24zM14 7h1v1H14zM22 7h2v1H22zM14 8h1v1H14zM21 8h1v1H21zM14 9h2v1H14zM16 10h1v1H16zM18 10h1v1H18z"/><path fill="#bc0a37" d="M18 0h1v1H18z"/><path fill="#bc0a36" d="M19 0h3v1H19z"/><path fill="#bc0936" d="M22 0h2v1H22zM18 1h3v1H18zM17 2h4v1H17zM25 3h1v1H25zM22 5h1v1H22z"/><path fill="#bc0836" d="M24 0h1v1H24zM16 3h5v1H16zM16 4h5v1H16zM16 5h5v1H16zM16 6h6v1H16zM16 7h4v1H16zM17 8h3v1H17zM17 9h2v1H17z"/><path fill="#bc0c3a" d="M26 0h1v1H26zM27 3h1v1H27zM24 8h1v1H24zM22 9h2v1H22zM14 10h1v1H14zM21 10h1v1H21z"/><path fill="#bc0e3c" d="M27 0h1v1H27zM24 10h1v1H24z"/><path fill="#bc0f3d" d="M28 0h1v1H28zM25 10h1v1H25z"/><path fill="#bc113f" d="M29 0h1v1H29z"/><path fill="#bc1240" d="M30 0h1v1H30z"/><path fill="#bc1340" d="M31 0h2v1H31z"/><path fill="#bc1440" d="M33 0h1v1H33z"/><path fill="#bc1542" d="M34 0h1v1H34z"/><path fill="#bc1644" d="M35 0h1v1H35zM36 1h1v1H36z"/><path fill="#ff3030" d="M36 0h1v1H36zM8 43h1v1H8zM6 44h1v1H6zM0 46h1v1H0zM4 46h1v1H4z"/><path fill="#ff3636" d="M37 0h1v1H37zM7 45h1v1H7zM1 47h1v1H1z"/><path fill="#ff3d3d" d="M38 0h1v1H38z"/><path fill="#ff4343" d="M39 0h1v1H39zM40 9h2v1H40z"/><path fill="#ff4a4a" d="M40 0h1v1H40zM6 48h1v1H6z"/><path fill="#ff5050" d="M41 0h1v1H41zM0 49h1v1H0z"/><path fill="#bf174a" d="M0 1h1v1H0z"/><path fill="#bf164a" d="M1 1h1v1H1z"/><path fill="#bf154a" d="M2 1h1v1H2z"/><path fill="#bf144a" d="M3 1h1v1H3z"/><path fill="#bf1449" d="M4 1h1v1H4z"/><path fill="#bf1347" d="M5 1h1v1H5z"/><path fill="#bf1146" d="M6 1h1v1H6z"/><path fill="#be1044" d="M7 1h1v1H7z"/><path fill="#be0f43" d="M8 1h1v1H8z"/><path fill="#be0e41" d="M9 1h1v1H9z"/><path fill="#bd0d3f" d="M10 1h1v1H10zM10 2h1v1H10z"/><path fill="#bd0d3e" d="M11 1h1v1H11z"/><path fill="#bd0c3d" d="M12 1h1v1H12z"/><path fill="#bc0b3b" d="M13 1h1v1H13zM13 2h1v1H13zM12 3h1v1H12zM12 4h1v1H12zM12 5h1v1H12zM12 6h1v1H12zM12 7h1v1H12zM12 8h1v1H12zM18 11h1v1H18z"/><path fill="#bc0b3a" d="M14 1h1v1H14zM13 9h1v1H13z"/><path fill="#bc0a39" d="M15 1h1v1H15zM14 2h1v1H14zM15 10h1v1H15zM19 10h1v1H19z"/><path fill="#bc0937" d="M16 1h2v1H16zM25 1h1v1H25zM16 2h1v1H16zM25 2h1v1H25zM15 3h1v1H15zM15 4h1v1H15zM15 5h1v1H15zM23 5h2v1H23zM15 6h1v1H15zM22 6h2v1H22zM15 7h1v1H15zM21 7h1v1H21zM15 8h2v1H15zM16 9h1v1H16z"/><path fill="#bc0935" d="M21 1h2v1H21zM21 2h1v1H21zM22 4h3v1H22z"/><path fill="#bc0835" d="M23 1h2v1H23zM22 2h3v1H22zM21 4h1v1H21zM21 5h1v1H21z"/><path fill="#bc0d3b" d="M27 1h1v1H27zM27 2h1v1H27zM24 9h1v1H24zM22 10h2v1H22z"/><path fill="#bb0f3d" d="M28 1h1v1H28z"/><path fill="#bb103f" d="M29 1h1v1H29z"/><path fill="#bb1140" d="M30 1h1v1H30z"/><path fill="#bb1240" d="M31 1h1v1H31z"/><path fill="#bb1340" d="M32 1h1v1H32z"/><path fill="#bb1441" d="M33 1h1v1H33z"/><path fill="#bb1543" d="M34 1h1v1H34z"/><path fill="#bb1644" d="M35 1h1v1H35z"/><path fill="#ff3737" d="M37 1h1v1H37zM37 2h1v1H37z"/><path fill="#ff3e3e" d="M38 1h1v1H38zM38 4h1v1H38zM9 46h1v1H9zM7 47h1v1H7z"/><path fill="#ff4444" d="M39 1h1v1H39zM10 47h1v1H10zM0 48h1v1H0z"/><path fill="#ff4b4b" d="M40 1h2v1H40zM7 48h1v1H7z"/><path fill="#bd174a" d="M0 2h1v1H0zM2 7h1v1H2z"/><path fill="#bd164a" d="M1 2h1v1H1z"/><path fill="#bd1549" d="M2 2h1v1H2z"/><path fill="#bd1448" d="M3 2h1v1H3z"/><path fill="#bd1447" d="M4 2h1v1H4z"/><path fill="#bd1346" d="M5 2h1v1H5z"/><path fill="#bd1145" d="M6 2h1v1H6z"/><path fill="#bd1043" d="M7 2h1v1H7z"/><path fill="#bd0f42" d="M8 2h1v1H8z"/><path fill="#bd0e40" d="M9 2h1v1H9z"/><path fill="#bc0c3d" d="M11 2h1v1H11zM11 7h1v1H11zM11 8h1v1H11z"/><path fill="#bc0b3c" d="M12 2h1v1H12z"/><path fill="#bc0938" d="M15 2h1v1H15zM17 10h1v1H17z"/><path fill="#bb0e3d" d="M28 2h1v1H28z"/><path fill="#b90f3f" d="M29 2h1v1H29z"/><path fill="#b91140" d="M30 2h2v1H30z"/><path fill="#b91341" d="M32 2h1v1H32z"/><path fill="#b91443" d="M33 2h1v1H33z"/><path fill="#b91544" d="M34 2h1v1H34z"/><path fill="#b91645" d="M35 2h2v1H35z"/><path fill="#ff3f3f" d="M38 2h1v1H38z"/><path fill="#ff4545" d="M39 2h3v1H39zM40 10h2v1H40z"/><path fill="#bc164a" d="M0 3h1v1H0zM1 4h1v1H1zM1 5h1v1H1zM3 7h1v1H3z"/><path fill="#bc1649" d="M1 3h1v1H1zM2 6h1v1H2z"/><path fill="#bc1548" d="M2 3h1v1H2zM3 6h1v1H3zM5 8h1v1H5z"/><path fill="#bc1447" d="M3 3h1v1H3zM4 4h1v1H4zM4 5h1v1H4zM5 7h1v1H5z"/><path fill="#bc1446" d="M4 3h1v1H4z"/><path fill="#bc1345" d="M5 3h1v1H5zM5 4h1v1H5zM7 9h1v1H7z"/><path fill="#bc1143" d="M6 3h1v1H6zM8 9h1v1H8z"/><path fill="#bc1042" d="M7 3h1v1H7zM9 9h1v1H9z"/><path fill="#bc0f41" d="M8 3h1v1H8zM8 4h1v1H8zM8 5h1v1H8zM8 6h1v1H8zM9 8h1v1H9z"/><path fill="#bc0d3f" d="M9 3h1v1H9zM10 7h1v1H10zM10 8h1v1H10z"/><path fill="#bc0c3e" d="M10 3h1v1H10zM10 4h1v1H10zM10 5h1v1H10zM10 6h1v1H10z"/><path fill="#bc0b3d" d="M11 3h1v1H11zM11 4h1v1H11zM11 5h1v1H11zM11 6h1v1H11z"/><path fill="#bc0a3a" d="M13 3h1v1H13zM13 4h1v1H13zM13 5h1v1H13zM13 6h1v1H13zM13 7h1v1H13zM13 8h1v1H13zM16 11h2v1H16z"/><path fill="#bc0939" d="M14 3h1v1H14zM14 4h1v1H14zM14 5h1v1H14zM14 6h1v1H14z"/><path fill="#bc0834" d="M21 3h4v1H21z"/><path fill="#bc0b38" d="M26 3h1v1H26z"/><path fill="#bb0d3c" d="M28 3h1v1H28z"/><path fill="#b90f3e" d="M29 3h1v1H29z"/><path fill="#b81040" d="M30 3h1v1H30z"/><path fill="#b81141" d="M31 3h1v1H31zM30 4h1v1H30zM30 5h1v1H30zM29 8h1v1H29z"/><path fill="#b81343" d="M32 3h1v1H32zM32 4h1v1H32zM31 5h1v1H31zM31 6h1v1H31zM31 7h1v1H31zM31 8h1v1H31zM30 9h1v1H30z"/><path fill="#b81444" d="M33 3h1v1H33zM32 5h1v1H32zM31 9h1v1H31zM30 10h1v1H30z"/><path fill="#b81545" d="M34 3h2v1H34zM33 4h1v1H33zM33 5h1v1H33zM32 6h1v1H32zM32 7h1v1H32zM32 8h1v1H32zM32 9h1v1H32zM31 10h2v1H31z"/><path fill="#b81646" d="M36 3h2v1H36zM38 5h1v1H38zM33 6h1v1H33zM38 6h1v1H38zM33 7h1v1H33zM38 7h1v1H38zM33 8h1v1H33zM38 8h1v1H38zM33 9h1v1H33zM38 9h1v1H38zM33 10h1v1H33zM38 10h1v1H38zM38 11h1v1H38z"/><path fill="#ff4040" d="M38 3h4v1H38zM39 4h3v1H39zM39 5h3v1H39zM39 6h3v1H39zM39 7h3v1H39zM39 8h3v1H39zM39 9h1v1H39zM9 45h1v1H9zM10 46h1v1H10zM8 47h1v1H8z"/><path fill="#bc174a" d="M0 4h1v1H0zM0 5h1v1H0zM1 6h1v1H1z"/><path fill="#bc1549" d="M2 4h1v1H2zM2 5h1v1H2zM4 7h1v1H4z"/><path fill="#bc1448" d="M3 4h1v1H3zM3 5h1v1H3zM4 6h1v1H4z"/><path fill="#bc1144" d="M6 4h1v1H6zM7 7h1v1H7z"/><path fill="#bc1043" d="M7 4h1v1H7zM7 5h1v1H7zM7 6h1v1H7zM8 8h1v1H8z"/><path fill="#bc0d40" d="M9 4h1v1H9zM9 5h1v1H9zM9 6h1v1H9z"/><path fill="#bb0a37" d="M25 4h1v1H25z"/><path fill="#bb0b39" d="M26 4h1v1H26zM25 6h1v1H25z"/><path fill="#bb0d3b" d="M27 4h1v1H27zM25 8h1v1H25z"/><path fill="#b90e3d" d="M28 4h1v1H28z"/><path fill="#b80f3f" d="M29 4h1v1H29zM28 8h1v1H28z"/><path fill="#b81242" d="M31 4h1v1H31zM30 6h1v1H30zM30 7h1v1H30zM30 8h1v1H30zM29 9h1v1H29z"/><path fill="#b81746" d="M34 4h1v1H34z"/><path fill="#b81847" d="M35 4h1v1H35zM34 5h1v1H34z"/><path fill="#b81747" d="M36 4h2v1H36zM37 5h1v1H37zM34 7h1v1H34zM37 7h1v1H37zM34 8h1v1H34zM36 8h2v1H36zM34 9h1v1H34zM36 9h2v1H36zM34 10h1v1H34zM36 10h2v1H36zM37 11h1v1H37z"/><path fill="#bc1346" d="M5 5h1v1H5zM5 6h1v1H5zM6 8h1v1H6z"/><path fill="#bc1145" d="M6 5h1v1H6zM6 6h1v1H6z"/><path fill="#bb0b38" d="M25 5h1v1H25z"/><path fill="#b90c39" d="M26 5h1v1H26z"/><path fill="#b90d3b" d="M27 5h1v1H27zM26 6h1v1H26z"/><path fill="#b80f3d" d="M28 5h1v1H28z"/><path fill="#b8103f" d="M29 5h1v1H29z"/><path fill="#b81a48" d="M35 5h1v1H35z"/><path fill="#b81948" d="M36 5h1v1H36zM34 6h1v1H34z"/><path fill="#bc184a" d="M0 6h1v1H0zM3 8h1v1H3zM4 9h1v1H4z"/><path fill="#b80e3c" d="M27 6h1v1H27z"/><path fill="#b80f3e" d="M28 6h1v1H28zM28 7h1v1H28z"/><path fill="#b81140" d="M29 6h1v1H29zM29 7h1v1H29z"/><path fill="#b81c4a" d="M35 6h1v1H35z"/><path fill="#b81a49" d="M36 6h1v1H36zM35 7h1v1H35z"/><path fill="#b81848" d="M37 6h1v1H37zM36 7h1v1H36zM35 8h1v1H35zM35 9h1v1H35zM35 10h1v1H35z"/><path fill="#bd194b" d="M0 7h1v1H0zM2 8h1v1H2z"/><path fill="#bd184b" d="M1 7h1v1H1z"/><path fill="#bc1245" d="M6 7h1v1H6z"/><path fill="#bc0f42" d="M8 7h1v1H8z"/><path fill="#bc0e40" d="M9 7h1v1H9zM10 9h1v1H10z"/><path fill="#bd0937" d="M20 7h1v1H20zM20 8h1v1H20zM19 9h1v1H19z"/><path fill="#bb0c3a" d="M25 7h1v1H25z"/><path fill="#b90d3c" d="M26 7h1v1H26z"/><path fill="#b80e3d" d="M27 7h1v1H27z"/><path fill="#bd1b4d" d="M0 8h1v1H0z"/><path fill="#bd1a4c" d="M1 8h1v1H1zM2 9h1v1H2z"/><path fill="#bc1749" d="M4 8h1v1H4z"/><path fill="#bc1244" d="M7 8h1v1H7z"/><path fill="#b90d3d" d="M26 8h1v1H26z"/><path fill="#b80e3e" d="M27 8h1v1H27z"/><path fill="#be1c4e" d="M0 9h1v1H0zM0 10h1v1H0z"/><path fill="#be1b4d" d="M1 9h1v1H1z"/><path fill="#bc194b" d="M3 9h1v1H3z"/><path fill="#bc1648" d="M5 9h1v1H5z"/><path fill="#bc1547" d="M6 9h1v1H6z"/><path fill="#bc0d3e" d="M11 9h1v1H11z"/><path fill="#bc0c3c" d="M12 9h1v1H12zM15 11h1v1H15zM19 11h2v1H19z"/><path fill="#be0a38" d="M20 9h1v1H20z"/><path fill="#bb0e3c" d="M25 9h1v1H25z"/><path fill="#ba0e3e" d="M26 9h1v1H26z"/><path fill="#ba0f3f" d="M27 9h1v1H27z"/><path fill="#b91040" d="M28 9h1v1H28z"/><path fill="#be2050" d="M1 10h1v1H1z"/><path fill="#bd1e50" d="M2 10h1v1H2z"/><path fill="#bd1d4e" d="M3 10h1v1H3z"/><path fill="#be1c4d" d="M4 10h1v1H4z"/><path fill="#be1a4c" d="M5 10h1v1H5z"/><path fill="#be194a" d="M6 10h1v1H6z"/><path fill="#be1748" d="M7 10h1v1H7z"/><path fill="#be1647" d="M8 10h1v1H8z"/><path fill="#be1445" d="M9 10h1v1H9z"/><path fill="#bd1242" d="M10 10h1v1H10zM11 11h1v1H11z"/><path fill="#bc0f40" d="M11 10h1v1H11z"/><path fill="#bc0e3e" d="M12 10h1v1H12zM13 11h1v1H13z"/><path fill="#bc0d3c" d="M13 10h1v1H13z"/><path fill="#bd0b3a" d="M20 10h1v1H20z"/><path fill="#bc0f3f" d="M26 10h1v1H26z"/><path fill="#bc1040" d="M27 10h1v1H27zM12 11h1v1H12zM16 12h1v1H16z"/><path fill="#bb1141" d="M28 10h1v1H28z"/><path fill="#b91343" d="M29 10h1v1H29z"/><path fill="#ff4848" d="M39 10h1v1H39zM40 11h2v1H40zM2 48h3v1H2z"/><path fill="#bb6698" d="M0 11h1v1H0zM0 12h1v1H0zM0 13h11v1H0zM0 14h11v1H0zM0 15h21v1H0zM0 16h21v1H0zM0 17h29v1H0zM0 18h29v1H0zM0 19h39v1H0zM0 20h39v1H0zM0 21h42v1H0zM0 22h42v1H0zM0 23h42v1H0zM0 24h42v1H0zM0 25h42v1H0zM0 26h42v1H0zM0 27h42v1H0zM0 28h42v1H0zM0 29h42v1H0zM0 30h42v1H0zM0 31h42v1H0zM0 32h42v1H0zM0 33h42v1H0zM0 34h42v1H0zM0 35h42v1H0zM0 36h42v1H0zM0 37h42v1H0zM1 38h41v1H1zM2 39h40v1H2zM3 40h39v1H3zM5 41h37v1H5zM7 42h35v1H7zM9 43h33v1H9zM10 44h32v1H10zM17 45h25v1H17zM17 46h25v1H17zM27 47h15v1H27zM27 48h15v1H27zM37 49h5v1H37zM37 50h5v1H37z"/><path fill="#be2454" d="M1 11h1v1H1z"/><path fill="#bf2353" d="M2 11h1v1H2z"/><path fill="#bf2151" d="M3 11h1v1H3z"/><path fill="#c02050" d="M4 11h1v1H4zM36 17h1v1H36zM14 46h1v1H14zM34 53h1v1H34zM36 57h1v1H36zM41 57h1v1H41zM35 58h1v1H35zM39 58h1v1H39zM26 59h1v1H26zM25 60h1v1H25z"/><path fill="#c01e4e" d="M5 11h1v1H5zM14 45h1v1H14zM35 55h1v1H35zM34 56h3v1H34zM33 58h1v1H33z"/><path fill="#c01d4d" d="M6 11h1v1H6zM35 54h1v1H35zM34 55h1v1H34zM37 56h1v1H37zM34 57h1v1H34zM38 57h1v1H38z"/><path fill="#c01c4c" d="M7 11h1v1H7zM8 12h1v1H8zM36 13h1v1H36zM29 18h1v1H29zM35 50h1v1H35zM35 52h1v1H35zM35 53h1v1H35zM33 54h2v1H33zM41 54h1v1H41zM32 55h2v1H32zM36 55h1v1H36zM40 55h2v1H40zM32 56h2v1H32zM39 56h3v1H39zM28 57h3v1H28zM32 57h2v1H32zM39 57h1v1H39zM27 58h1v1H27zM31 58h1v1H31zM34 58h1v1H34zM31 59h1v1H31z"/><path fill="#c01a4a" d="M8 11h1v1H8zM35 49h1v1H35zM35 51h1v1H35zM36 54h1v1H36zM38 54h1v1H38zM38 55h1v1H38z"/><path fill="#bf1848" d="M9 11h1v1H9z"/><path fill="#be1545" d="M10 11h1v1H10z"/><path fill="#bc0d3d" d="M14 11h1v1H14z"/><path fill="#bc1444" d="M21 11h1v1H21zM12 12h1v1H12zM20 12h1v1H20zM11 13h2v1H11zM11 14h1v1H11zM22 16h1v1H22z"/><path fill="#bc1747" d="M22 11h1v1H22zM15 13h1v1H15zM15 14h1v1H15z"/><path fill="#bc1a4a" d="M23 11h1v1H23zM28 11h1v1H28zM19 13h2v1H19zM19 14h2v1H19zM11 48h1v1H11z"/><path fill="#bc1948" d="M24 11h1v1H24z"/><path fill="#bc1847" d="M25 11h1v1H25z"/><path fill="#bc1848" d="M26 11h1v1H26zM16 13h2v1H16zM16 14h2v1H16zM21 16h1v1H21zM11 46h2v1H11z"/><path fill="#bc1949" d="M27 11h1v1H27zM18 13h1v1H18zM18 14h1v1H18z"/><path fill="#bc1c4c" d="M29 11h1v1H29zM21 15h1v1H21z"/><path fill="#bb1c4c" d="M30 11h1v1H30z"/><path fill="#b91c4c" d="M31 11h1v1H31zM37 12h1v1H37z"/><path fill="#b81c4c" d="M32 11h1v1H32z"/><path fill="#b91f4f" d="M33 11h1v1H33z"/><path fill="#b91d4d" d="M34 11h1v1H34z"/><path fill="#b81a4a" d="M35 11h1v1H35zM38 12h1v1H38z"/><path fill="#b81949" d="M36 11h1v1H36z"/><path fill="#b8184a" d="M39 11h1v1H39z"/><path fill="#bc2454" d="M1 12h1v1H1zM25 12h1v1H25zM29 12h1v1H29zM32 12h1v1H32zM22 15h1v1H22z"/><path fill="#bc2353" d="M2 12h2v1H2zM27 12h2v1H27z"/><path fill="#bc2252" d="M4 12h1v1H4zM23 12h1v1H23zM26 12h1v1H26z"/><path fill="#bd2050" d="M5 12h1v1H5z"/><path fill="#be1f4f" d="M6 12h1v1H6z"/><path fill="#bf1e4e" d="M7 12h1v1H7z"/><path fill="#bf1949" d="M9 12h1v1H9z"/><path fill="#be1646" d="M10 12h1v1H10zM23 16h1v1H23z"/><path fill="#bc1343" d="M11 12h1v1H11zM13 12h1v1H13zM19 12h1v1H19z"/><path fill="#bc1242" d="M14 12h1v1H14zM18 12h1v1H18z"/><path fill="#bc1141" d="M15 12h1v1H15zM17 12h1v1H17z"/><path fill="#bc1e4e" d="M21 12h1v1H21z"/><path fill="#bc2050" d="M22 12h1v1H22zM35 12h1v1H35zM38 13h1v1H38z"/><path fill="#bc2453" d="M24 12h1v1H24z"/><path fill="#bb2555" d="M30 12h1v1H30z"/><path fill="#ba2656" d="M31 12h1v1H31zM34 12h1v1H34z"/><path fill="#bb2959" d="M33 12h1v1H33z"/><path fill="#bb1e4e" d="M36 12h1v1H36z"/><path fill="#ff5a50" d="M39 12h3v1H39z"/><path fill="#bc1545" d="M13 13h1v1H13zM12 14h1v1H12z"/><path fill="#bc1646" d="M14 13h1v1H14zM13 14h2v1H13z"/><path fill="#c02454" d="M21 13h1v1H21zM16 45h1v1H16zM34 49h1v1H34zM34 50h1v1H34zM28 56h3v1H28zM40 57h1v1H40zM26 58h1v1H26zM40 59h1v1H40z"/><path fill="#be2757" d="M22 13h1v1H22z"/><path fill="#bc2a5a" d="M23 13h1v1H23zM26 16h1v1H26z"/><path fill="#bc2d5d" d="M24 13h1v1H24z"/><path fill="#bc3060" d="M25 13h3v1H25zM23 14h1v1H23z"/><path fill="#bc3161" d="M28 13h1v1H28z"/><path fill="#bc3262" d="M29 13h5v1H29zM34 14h1v1H34z"/><path fill="#bc2c5c" d="M34 13h1v1H34zM22 14h1v1H22zM24 15h1v1H24z"/><path fill="#bc2656" d="M35 13h1v1H35z"/><path fill="#be1e4e" d="M37 13h1v1H37z"/><path fill="#ff8a80" d="M39 13h3v1H39z"/><path fill="#c02858" d="M21 14h1v1H21zM35 60h7v1H35z"/><path fill="#bc3464" d="M24 14h1v1H24zM32 14h1v1H32z"/><path fill="#bc3767" d="M25 14h1v1H25zM31 14h1v1H31zM27 16h1v1H27z"/><path fill="#bc3a6a" d="M26 14h5v1H26zM26 15h1v1H26zM34 15h1v1H34zM29 17h1v1H29z"/><path fill="#bc3363" d="M33 14h1v1H33zM25 15h1v1H25z"/><path fill="#be2b5b" d="M35 14h1v1H35z"/><path fill="#c81040" d="M36 14h1v1H36zM36 15h1v1H36z"/><path fill="#c01848" d="M37 14h1v1H37zM24 16h1v1H24zM10 45h1v1H10zM11 47h2v1H11zM36 50h1v1H36zM36 52h1v1H36zM36 53h1v1H36zM41 53h1v1H41zM30 58h1v1H30zM31 60h1v1H31zM25 61h1v1H25zM31 61h1v1H31z"/><path fill="#c05080" d="M38 14h1v1H38z"/><path fill="#fbe0dc" d="M39 14h1v1H39z"/><path fill="#fde4e0" d="M40 14h2v1H40z"/><path fill="#bc2858" d="M23 15h1v1H23z"/><path fill="#bc3d6d" d="M27 15h1v1H27z"/><path fill="#bc4070" d="M28 15h3v1H28zM35 17h1v1H35zM30 18h1v1H30zM31 50h1v1H31zM31 51h1v1H31zM23 52h4v1H23zM23 53h1v1H23zM24 58h1v1H24z"/><path fill="#bc3e6e" d="M31 15h1v1H31z"/><path fill="#bc3c6c" d="M32 15h1v1H32zM21 48h1v1H21zM27 52h4v1H27zM24 53h3v1H24z"/><path fill="#bc3b6b" d="M33 15h1v1H33z"/><path fill="#bd3262" d="M35 15h1v1H35z"/><path fill="#c04a78" d="M37 15h1v1H37zM36 18h1v1H36z"/><path fill="#8a50b0" d="M38 15h1v1H38z"/><path fill="#7a7aff" d="M39 15h1v1H39z"/><path fill="#5a5aff" d="M40 15h1v1H40zM41 18h1v1H41z"/><path fill="#5050ff" d="M41 15h1v1H41z"/><path fill="#be2151" d="M25 16h1v1H25z"/><path fill="#bc4474" d="M28 16h1v1H28zM34 16h1v1H34zM34 17h1v1H34zM22 47h1v1H22zM12 51h1v1H12zM21 51h6v1H21zM22 52h1v1H22zM22 53h1v1H22zM22 54h1v1H22zM27 54h1v1H27zM22 55h1v1H22zM26 56h1v1H26zM25 57h1v1H25zM15 58h1v1H15zM15 59h1v1H15zM22 60h1v1H22zM22 61h1v1H22z"/><path fill="#bc4777" d="M29 16h1v1H29zM33 16h1v1H33zM23 47h1v1H23z"/><path fill="#bc4a7a" d="M30 16h3v1H30zM24 47h3v1H24zM25 48h1v1H25zM21 49h1v1H21z"/><path fill="#bd3969" d="M35 16h1v1H35z"/><path fill="#c81848" d="M36 16h1v1H36z"/><path fill="#c86aa0" d="M37 16h1v1H37z"/><path fill="#6a28a8" d="M38 16h1v1H38z"/><path fill="#1a1aff" d="M39 16h1v1H39z"/><path fill="#0000ff" d="M40 16h2v1H40zM40 17h2v1H40z"/><path fill="#bc4575" d="M30 17h1v1H30z"/><path fill="#c04878" d="M31 17h1v1H31zM18 49h1v1H18zM19 50h1v1H19z"/><path fill="#ba558a" d="M32 17h1v1H32z"/><path fill="#bc4878" d="M33 17h1v1H33zM23 48h1v1H23zM21 50h6v1H21zM20 51h1v1H20zM27 51h4v1H27zM26 54h1v1H26zM27 55h1v1H27zM23 59h1v1H23z"/><path fill="#a050a8" d="M37 17h1v1H37z"/><path fill="#6a20a8" d="M38 17h1v1H38z"/><path fill="#6a0aa0" d="M39 17h1v1H39z"/><path fill="#ba5085" d="M31 18h1v1H31z"/><path fill="#b8609a" d="M32 18h1v1H32zM35 18h1v1H35zM18 52h2v1H18zM21 53h1v1H21zM21 54h1v1H21zM21 55h1v1H21zM21 56h1v1H21zM18 57h1v1H18zM21 57h2v1H21zM19 58h4v1H19zM20 59h2v1H20zM19 60h1v1H19zM19 61h1v1H19z"/><path fill="#b8649d" d="M33 18h1v1H33z"/><path fill="#b868a0" d="M34 18h1v1H34z"/><path fill="#9a4aa8" d="M37 18h1v1H37z"/><path fill="#6a10a8" d="M38 18h2v1H38z"/><path fill="#6a1aa0" d="M40 18h1v1H40z"/><path fill="#a050a0" d="M39 19h1v1H39zM39 20h1v1H39z"/><path fill="#a85aa0" d="M40 19h1v1H40z"/><path fill="#b060a0" d="M41 19h1v1H41zM40 20h2v1H40z"/><path fill="#ff2a2a" d="M0 43h1v1H0zM6 43h1v1H6zM0 44h5v1H0zM0 45h3v1H0z"/><path fill="#ff2525" d="M1 43h1v1H1z"/><path fill="#ff2020" d="M2 43h1v1H2z"/><path fill="#ff2424" d="M3 43h1v1H3z"/><path fill="#ff2828" d="M4 43h1v1H4z"/><path fill="#ff2929" d="M5 43h1v1H5z"/><path fill="#ff2d2d" d="M7 43h1v1H7zM5 44h1v1H5z"/><path fill="#ff3434" d="M7 44h1v1H7zM6 46h1v1H6zM0 47h1v1H0z"/><path fill="#ff3838" d="M8 44h1v1H8zM7 46h1v1H7zM2 47h1v1H2z"/><path fill="#ff2b2b" d="M3 45h1v1H3z"/><path fill="#ff2c2c" d="M4 45h1v1H4z"/><path fill="#ff2f2f" d="M5 45h1v1H5zM1 46h1v1H1zM3 46h1v1H3z"/><path fill="#ff3232" d="M6 45h1v1H6zM5 46h1v1H5z"/><path fill="#ff3a3a" d="M8 45h1v1H8zM4 47h1v1H4z"/><path fill="#c01849" d="M11 45h1v1H11z"/><path fill="#c01b4c" d="M13 45h1v1H13z"/><path fill="#c02151" d="M15 45h1v1H15zM13 47h1v1H13zM37 58h2v1H37zM40 58h1v1H40z"/><path fill="#ff2e2e" d="M2 46h1v1H2z"/><path fill="#ff3c3c" d="M8 46h1v1H8zM6 47h1v1H6z"/><path fill="#be1c4c" d="M13 46h1v1H13z"/><path fill="#c02353" d="M15 46h1v1H15z"/><path fill="#c02656" d="M16 46h1v1H16zM11 49h1v1H11zM33 53h1v1H33zM32 54h1v1H32zM31 56h1v1H31zM27 57h1v1H27zM35 59h1v1H35zM41 59h1v1H41z"/><path fill="#ff3939" d="M3 47h1v1H3z"/><path fill="#ff3b3b" d="M5 47h1v1H5z"/><path fill="#ff4242" d="M9 47h1v1H9z"/><path fill="#c02a5a" d="M14 47h1v1H14zM13 48h1v1H13zM33 51h1v1H33zM31 55h1v1H31zM35 61h7v1H35z"/><path fill="#c02f5f" d="M15 47h1v1H15z"/><path fill="#c03464" d="M16 47h1v1H16zM32 49h1v1H32zM32 50h1v1H32zM32 51h1v1H32zM31 53h1v1H31zM28 54h3v1H28zM28 55h3v1H28zM27 56h1v1H27zM26 57h1v1H26zM25 58h1v1H25z"/><path fill="#c03767" d="M17 47h1v1H17z"/><path fill="#c03a6a" d="M18 47h4v1H18zM13 49h1v1H13z"/><path fill="#ff4646" d="M1 48h1v1H1z"/><path fill="#ff4949" d="M5 48h1v1H5z"/><path fill="#ff4c4c" d="M8 48h3v1H8z"/><path fill="#be2252" d="M12 48h1v1H12z"/><path fill="#c03363" d="M14 48h1v1H14z"/><path fill="#c03c6c" d="M15 48h1v1H15zM19 48h1v1H19zM20 49h1v1H20z"/><path fill="#c04070" d="M16 48h1v1H16zM18 48h1v1H18zM13 50h1v1H13z"/><path fill="#c04474" d="M17 48h1v1H17zM19 49h1v1H19zM31 49h1v1H31zM20 50h1v1H20z"/><path fill="#c03868" d="M20 48h1v1H20zM31 52h2v1H31zM27 53h1v1H27zM30 53h1v1H30zM24 59h1v1H24zM23 60h1v1H23z"/><path fill="#bc4272" d="M22 48h1v1H22z"/><path fill="#bc4979" d="M24 48h1v1H24z"/><path fill="#bc4c7c" d="M26 48h1v1H26zM23 49h4v1H23zM14 50h1v1H14zM27 50h4v1H27zM13 51h1v1H13zM21 52h1v1H21zM13 54h1v1H13zM23 54h1v1H23zM13 55h1v1H13zM23 55h1v1H23zM26 55h1v1H26zM14 56h2v1H14zM14 57h2v1H14zM23 58h1v1H23zM21 61h1v1H21z"/><path fill="#ff5252" d="M1 49h1v1H1z"/><path fill="#ff5454" d="M2 49h1v1H2z"/><path fill="#ff5757" d="M3 49h1v1H3z"/><path fill="#ff5a5a" d="M4 49h7v1H4z"/><path fill="#c03060" d="M12 49h1v1H12zM12 50h1v1H12z"/><path fill="#c04373" d="M14 49h1v1H14z"/><path fill="#c04c7c" d="M15 49h3v1H15z"/><path fill="#bc4b7b" d="M22 49h1v1H22z"/><path fill="#bc5080" d="M27 49h4v1H27zM15 50h1v1H15zM18 50h1v1H18zM14 51h1v1H14zM19 51h1v1H19zM13 52h1v1H13zM24 54h2v1H24zM14 55h1v1H14zM16 56h1v1H16zM23 56h1v1H23zM25 56h1v1H25zM16 57h2v1H16zM24 57h1v1H24zM16 58h1v1H16zM16 59h1v1H16zM21 60h1v1H21zM20 61h1v1H20z"/><path fill="#c02c5c" d="M33 49h1v1H33zM33 50h1v1H33zM33 52h1v1H33zM32 53h1v1H32zM31 54h1v1H31zM25 59h1v1H25zM24 60h1v1H24zM23 61h1v1H23z"/><path fill="#ff6464" d="M0 50h1v1H0z"/><path fill="#ff6767" d="M1 50h1v1H1z"/><path fill="#ff6a6a" d="M2 50h1v1H2zM10 50h1v1H10z"/><path fill="#ff6d6d" d="M3 50h1v1H3z"/><path fill="#ff7070" d="M4 50h1v1H4zM11 50h1v1H11z"/><path fill="#ff6f6f" d="M5 50h1v1H5z"/><path fill="#ff6e6e" d="M6 50h3v1H6z"/><path fill="#ff6c6c" d="M9 50h1v1H9z"/><path fill="#bc5888" d="M16 50h2v1H16zM24 55h2v1H24zM23 57h1v1H23z"/><path fill="#ff8080" d="M0 51h1v1H0zM6 51h5v1H6z"/><path fill="#ff8282" d="M1 51h1v1H1z"/><path fill="#ff8484" d="M2 51h1v1H2zM5 51h1v1H5z"/><path fill="#ff8686" d="M3 51h1v1H3z"/><path fill="#ff8888" d="M4 51h1v1H4zM11 51h1v1H11z"/><path fill="#b85a90" d="M15 51h1v1H15zM17 51h1v1H17zM14 52h1v1H14zM15 54h1v1H15z"/><path fill="#b85e94" d="M16 51h1v1H16z"/><path fill="#bc5488" d="M18 51h1v1H18zM13 53h1v1H13zM14 54h1v1H14zM15 55h1v1H15zM17 56h1v1H17zM17 58h1v1H17zM20 60h1v1H20z"/><path fill="#c02252" d="M34 51h1v1H34zM34 52h1v1H34zM31 57h1v1H31zM36 58h1v1H36zM41 58h1v1H41zM32 59h3v1H32zM32 60h3v1H32zM24 61h1v1H24zM32 61h3v1H32z"/><path fill="#c01444" d="M36 51h1v1H36zM28 58h2v1H28zM27 59h1v1H27zM26 60h1v1H26z"/><path fill="#c0103e" d="M37 51h1v1H37zM26 61h1v1H26zM30 61h1v1H30z"/><path fill="#c00c3c" d="M38 51h2v1H38zM28 59h2v1H28zM27 60h2v1H27z"/><path fill="#c00838" d="M40 51h2v1H40zM29 60h1v1H29zM27 61h3v1H27z"/><path fill="#ffa8a8" d="M0 52h1v1H0zM9 52h1v1H9zM3 53h1v1H3zM8 53h1v1H8zM0 58h1v1H0z"/><path fill="#ffa4a4" d="M1 52h1v1H1zM1 55h1v1H1zM1 56h1v1H1z"/><path fill="#ffa0a0" d="M2 52h1v1H2zM8 52h1v1H8zM4 53h1v1H4zM7 53h1v1H7zM0 54h1v1H0zM0 57h1v1H0z"/><path fill="#ff9d9d" d="M3 52h1v1H3z"/><path fill="#ff9a9a" d="M4 52h1v1H4z"/><path fill="#ff9595" d="M5 52h1v1H5z"/><path fill="#ff9090" d="M6 52h1v1H6z"/><path fill="#ff9898" d="M7 52h1v1H7zM6 53h1v1H6zM0 55h1v1H0zM0 56h1v1H0z"/><path fill="#ffb0b0" d="M10 52h1v1H10zM2 53h1v1H2zM9 53h1v1H9zM2 55h1v1H2zM2 56h1v1H2zM1 57h1v1H1zM0 59h1v1H0z"/><path fill="#ffb8b8" d="M11 52h1v1H11zM0 53h1v1H0zM10 53h1v1H10zM2 54h1v1H2zM8 54h5v1H8zM1 58h1v1H1zM0 60h1v1H0zM0 61h1v1H0z"/><path fill="#ffc0c0" d="M12 52h1v1H12zM7 54h1v1H7zM12 55h1v1H12zM2 57h1v1H2zM1 59h1v1H1z"/><path fill="#ac5aa0" d="M15 52h2v1H15zM16 53h4v1H16zM17 54h3v1H17zM18 55h2v1H18zM17 60h1v1H17zM17 61h1v1H17z"/><path fill="#b45e98" d="M17 52h1v1H17zM20 52h1v1H20zM18 56h1v1H18zM19 57h1v1H19z"/><path fill="#c01040" d="M37 52h1v1H37zM41 52h1v1H41zM30 59h1v1H30zM30 60h1v1H30z"/><path fill="#c01141" d="M38 52h2v1H38z"/><path fill="#c01242" d="M40 52h1v1H40z"/><path fill="#ffb4b4" d="M1 53h1v1H1z"/><path fill="#ff9c9c" d="M5 53h1v1H5z"/><path fill="#ffc4c4" d="M11 53h1v1H11zM3 54h1v1H3zM3 55h1v1H3zM11 55h1v1H11zM1 60h1v1H1z"/><path fill="#ffd0d0" d="M12 53h1v1H12zM4 54h1v1H4zM8 55h1v1H8zM12 56h1v1H12zM2 59h1v1H2zM14 59h1v1H14zM2 60h1v1H2z"/><path fill="#b05a9a" d="M14 53h1v1H14zM17 55h1v1H17z"/><path fill="#ac5a9e" d="M15 53h1v1H15z"/><path fill="#b05a9e" d="M20 53h1v1H20zM20 54h1v1H20zM20 55h1v1H20zM20 56h1v1H20zM20 57h1v1H20z"/><path fill="#be3868" d="M28 53h1v1H28z"/><path fill="#bf3868" d="M29 53h1v1H29z"/><path fill="#c01747" d="M37 53h2v1H37zM40 53h1v1H40z"/><path fill="#c01646" d="M39 53h1v1H39z"/><path fill="#ffacac" d="M1 54h1v1H1z"/><path fill="#ffcccc" d="M5 54h1v1H5zM9 55h1v1H9z"/><path fill="#ffc8c8" d="M6 54h1v1H6zM10 55h1v1H10zM3 56h1v1H3zM2 58h1v1H2zM14 58h1v1H14zM1 61h1v1H1z"/><path fill="#b45a94" d="M16 54h1v1H16z"/><path fill="#c01949" d="M37 54h1v1H37z"/><path fill="#c01b4b" d="M39 54h2v1H39zM37 55h1v1H37zM39 55h1v1H39zM38 56h1v1H38z"/><path fill="#ffd8d8" d="M4 55h1v1H4zM7 55h1v1H7zM11 56h1v1H11zM13 56h1v1H13zM12 57h1v1H12zM2 61h1v1H2z"/><path fill="#ffdcdc" d="M5 55h1v1H5zM3 58h1v1H3zM13 59h1v1H13z"/><path fill="#ffe0e0" d="M6 55h1v1H6zM4 56h1v1H4zM10 56h1v1H10zM13 57h1v1H13zM12 58h1v1H12zM14 60h2v1H14z"/><path fill="#b85a92" d="M16 55h1v1H16z"/><path fill="#ffe8e8" d="M5 56h1v1H5zM9 56h1v1H9zM4 57h1v1H4zM12 59h1v1H12z"/><path fill="#fff0f0" d="M6 56h3v1H6zM5 57h1v1H5zM10 57h1v1H10zM4 58h1v1H4zM4 61h1v1H4zM14 61h2v1H14z"/><path fill="#b05aa0" d="M19 56h1v1H19z"/><path fill="#bc5a90" d="M22 56h1v1H22zM18 58h1v1H18zM17 59h3v1H17zM22 59h1v1H22z"/><path fill="#bc5a8c" d="M24 56h1v1H24z"/><path fill="#ffd4d4" d="M3 57h1v1H3zM13 58h1v1H13z"/><path fill="#fff8f8" d="M6 57h1v1H6zM5 58h1v1H5zM10 58h1v1H10zM4 59h1v1H4zM4 60h1v1H4zM12 60h1v1H12zM5 61h1v1H5z"/><path fill="#f8f4fc" d="M7 57h1v1H7z"/><path fill="#f0f0ff" d="M8 57h1v1H8zM8 60h1v1H8zM7 61h1v1H7zM12 61h1v1H12z"/><path fill="#f8f0f8" d="M9 57h1v1H9zM13 61h1v1H13z"/><path fill="#ffe4e4" d="M11 57h1v1H11zM3 59h1v1H3zM3 60h1v1H3zM3 61h1v1H3z"/><path fill="#c01f4f" d="M35 57h1v1H35zM37 57h1v1H37zM32 58h1v1H32z"/><path fill="#fffcfc" d="M9 58h1v1H9zM5 59h1v1H5zM5 60h1v1H5z"/><path fill="#ffecec" d="M11 58h1v1H11zM13 60h1v1H13z"/><path fill="#fffcff" d="M7 59h1v1H7zM9 59h1v1H9z"/><path fill="#fff8ff" d="M8 59h1v1H8z"/><path fill="#fff4f4" d="M11 59h1v1H11z"/><path fill="#c02555" d="M36 59h4v1H36z"/><path fill="#f8f8ff" d="M7 60h1v1H7z"/><path fill="#e8e8ff" d="M9 60h1v1H9z"/><path fill="#e0e0ff" d="M10 60h1v1H10zM8 61h1v1H8z"/><path fill="#f0ecfc" d="M11 60h1v1H11z"/><path fill="#b45a98" d="M16 60h1v1H16z"/><path fill="#b05a9c" d="M18 60h1v1H18zM18 61h1v1H18z"/><path fill="#dcdcff" d="M9 61h1v1H9z"/><path fill="#d8d8ff" d="M10 61h1v1H10z"/><path fill="#e4e4ff" d="M11 61h1v1H11z"/><path fill="#a858a0" d="M16 61h1v1H16z"/></svg>
<div class="t" id="t1" style="left:297px;top:9.5px;transform:scaleX(1.142)">sar0285</div>
<div class="t" id="t2" style="left:1034px;top:9.5px;transform:scaleX(1.174)">2006-12-20-10-07-01</div>
<div class="t" id="t3" style="left:2066px;top:9.5px;transform:scaleX(0.996)">L5</div>
<div class="lg"></div>
<div class="pt" style="top:600px;background:#ff8a3a"></div><div class="tx" style="top:598px">sand</div>
<div class="pt" style="top:630px;background:#c8fcfc"></div><div class="tx" style="top:628px">whitewater</div>
<div class="pt" style="top:660px;background:#0055ff"></div><div class="tx" style="top:658px">water</div>
<div class="pt" style="top:698px;height:3px;background:#000"></div><div class="tx" style="top:689px">shoreline</div>
<div class="pt" style="top:721px;background:#9b2530;"></div><div class="tx" style="top:719px">reference shoreline buffer</div>
</body></html>
